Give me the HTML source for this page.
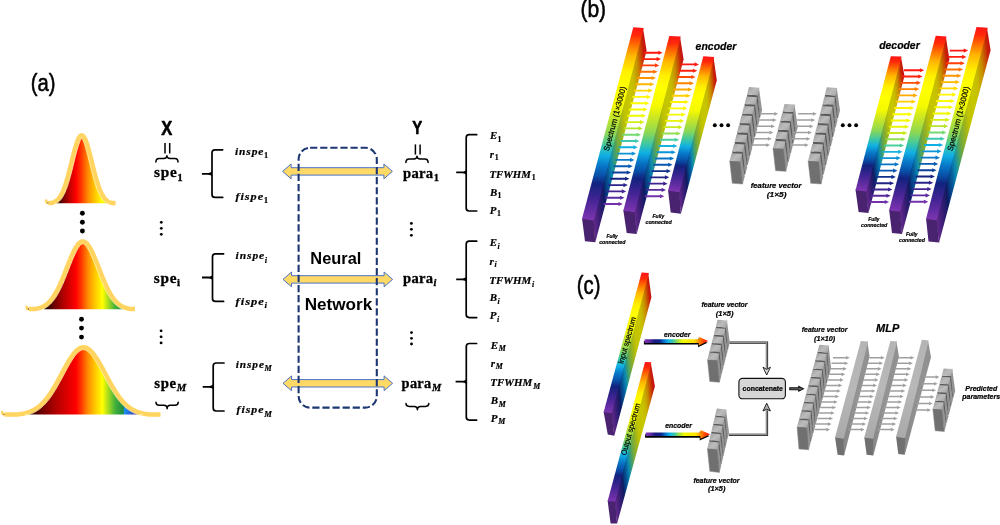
<!DOCTYPE html>
<html lang="en"><head><meta charset="utf-8"><title>Figure</title>
<style>html,body{margin:0;padding:0;background:#fff;}body{width:1000px;height:525px;overflow:hidden;}svg text{white-space:pre;fill:#000;}
.s,.sb,.si,.sbi{font-family:"Liberation Sans",sans-serif;}
.r,.rb,.ri,.rbi{font-family:"Liberation Serif",serif;}
.sb,.sbi,.rb,.rbi{font-weight:bold;}
.si,.sbi,.ri,.rbi{font-style:italic;}</style></head>
<body>
<svg width="1000" height="525" viewBox="0 0 1000 525" style="display:block">
<defs><linearGradient id="sp1" gradientUnits="userSpaceOnUse" x1="57.5" y1="0" x2="142" y2="0"><stop offset="0.0000" stop-color="#1c0000"/><stop offset="0.0657" stop-color="#700000"/><stop offset="0.1314" stop-color="#b40000"/><stop offset="0.2189" stop-color="#ff0000"/><stop offset="0.2899" stop-color="#ff4000"/><stop offset="0.3609" stop-color="#ff8c00"/><stop offset="0.4556" stop-color="#ffd000"/><stop offset="0.5325" stop-color="#ffff00"/><stop offset="0.6036" stop-color="#a4da20"/><stop offset="0.6805" stop-color="#44b23c"/><stop offset="0.7787" stop-color="#1e8c40"/><stop offset="0.7905" stop-color="#2092ea"/><stop offset="0.8343" stop-color="#2074e2"/><stop offset="0.9172" stop-color="#4030b4"/><stop offset="1.0000" stop-color="#5a20a0"/></linearGradient>
<linearGradient id="sp2" gradientUnits="userSpaceOnUse" x1="45.5" y1="0" x2="142" y2="0"><stop offset="0.0000" stop-color="#1c0000"/><stop offset="0.0948" stop-color="#700000"/><stop offset="0.1896" stop-color="#b40000"/><stop offset="0.3161" stop-color="#ff0000"/><stop offset="0.3782" stop-color="#ff4000"/><stop offset="0.4404" stop-color="#ff8c00"/><stop offset="0.5233" stop-color="#ffd000"/><stop offset="0.5907" stop-color="#ffff00"/><stop offset="0.6528" stop-color="#a4da20"/><stop offset="0.7202" stop-color="#44b23c"/><stop offset="0.8062" stop-color="#1e8c40"/><stop offset="0.8166" stop-color="#2092ea"/><stop offset="0.8549" stop-color="#2074e2"/><stop offset="0.9275" stop-color="#4030b4"/><stop offset="1.0000" stop-color="#5a20a0"/></linearGradient>
<linearGradient id="sp3" gradientUnits="userSpaceOnUse" x1="27.5" y1="0" x2="142" y2="0"><stop offset="0.0000" stop-color="#1c0000"/><stop offset="0.1271" stop-color="#700000"/><stop offset="0.2541" stop-color="#b40000"/><stop offset="0.4236" stop-color="#ff0000"/><stop offset="0.4760" stop-color="#ff4000"/><stop offset="0.5284" stop-color="#ff8c00"/><stop offset="0.5983" stop-color="#ffd000"/><stop offset="0.6550" stop-color="#ffff00"/><stop offset="0.7074" stop-color="#a4da20"/><stop offset="0.7642" stop-color="#44b23c"/><stop offset="0.8367" stop-color="#1e8c40"/><stop offset="0.8454" stop-color="#2092ea"/><stop offset="0.8777" stop-color="#2074e2"/><stop offset="0.9389" stop-color="#4030b4"/><stop offset="1.0000" stop-color="#5a20a0"/></linearGradient>
<linearGradient id="g4" gradientUnits="userSpaceOnUse" x1="633.30" y1="27.30" x2="620.24" y2="221.27"><stop offset="0.000" stop-color="#ff1414"/><stop offset="0.040" stop-color="#ff2a0a"/><stop offset="0.090" stop-color="#ff7000"/><stop offset="0.147" stop-color="#ffb800"/><stop offset="0.227" stop-color="#fff000"/><stop offset="0.300" stop-color="#ffff00"/><stop offset="0.400" stop-color="#f6fa00"/><stop offset="0.458" stop-color="#d0e820"/><stop offset="0.552" stop-color="#8cd854"/><stop offset="0.615" stop-color="#40c8a0"/><stop offset="0.667" stop-color="#10b0e4"/><stop offset="0.720" stop-color="#0878c8"/><stop offset="0.772" stop-color="#0850a8"/><stop offset="0.815" stop-color="#12227e"/><stop offset="0.900" stop-color="#442494"/><stop offset="1.000" stop-color="#7c34b0"/></linearGradient>
<linearGradient id="g5" gradientUnits="userSpaceOnUse" x1="643.70" y1="28.00" x2="574.99" y2="34.93"><stop offset="0.000" stop-color="#c71010"/><stop offset="0.040" stop-color="#c72108"/><stop offset="0.090" stop-color="#c75700"/><stop offset="0.147" stop-color="#c79000"/><stop offset="0.227" stop-color="#c7bb00"/><stop offset="0.300" stop-color="#c7c700"/><stop offset="0.400" stop-color="#c0c300"/><stop offset="0.458" stop-color="#a2b519"/><stop offset="0.552" stop-color="#6da842"/><stop offset="0.615" stop-color="#329c7d"/><stop offset="0.667" stop-color="#0c89b2"/><stop offset="0.720" stop-color="#065e9c"/><stop offset="0.772" stop-color="#063e83"/><stop offset="0.815" stop-color="#0e1b62"/><stop offset="0.900" stop-color="#351c73"/><stop offset="1.000" stop-color="#612989"/></linearGradient>
<linearGradient id="g6" gradientUnits="userSpaceOnUse" x1="669.30" y1="35.90" x2="661.56" y2="212.38"><stop offset="0.000" stop-color="#ff1414"/><stop offset="0.040" stop-color="#ff2a0a"/><stop offset="0.090" stop-color="#ff7000"/><stop offset="0.147" stop-color="#ffb800"/><stop offset="0.227" stop-color="#fff000"/><stop offset="0.300" stop-color="#ffff00"/><stop offset="0.400" stop-color="#f6fa00"/><stop offset="0.458" stop-color="#d0e820"/><stop offset="0.552" stop-color="#8cd854"/><stop offset="0.615" stop-color="#40c8a0"/><stop offset="0.667" stop-color="#10b0e4"/><stop offset="0.720" stop-color="#0878c8"/><stop offset="0.772" stop-color="#0850a8"/><stop offset="0.815" stop-color="#12227e"/><stop offset="0.900" stop-color="#442494"/><stop offset="1.000" stop-color="#7c34b0"/></linearGradient>
<linearGradient id="g7" gradientUnits="userSpaceOnUse" x1="680.70" y1="36.40" x2="616.34" y2="43.41"><stop offset="0.000" stop-color="#c71010"/><stop offset="0.040" stop-color="#c72108"/><stop offset="0.090" stop-color="#c75700"/><stop offset="0.147" stop-color="#c79000"/><stop offset="0.227" stop-color="#c7bb00"/><stop offset="0.300" stop-color="#c7c700"/><stop offset="0.400" stop-color="#c0c300"/><stop offset="0.458" stop-color="#a2b519"/><stop offset="0.552" stop-color="#6da842"/><stop offset="0.615" stop-color="#329c7d"/><stop offset="0.667" stop-color="#0c89b2"/><stop offset="0.720" stop-color="#065e9c"/><stop offset="0.772" stop-color="#063e83"/><stop offset="0.815" stop-color="#0e1b62"/><stop offset="0.900" stop-color="#351c73"/><stop offset="1.000" stop-color="#612989"/></linearGradient>
<linearGradient id="g8" gradientUnits="userSpaceOnUse" x1="703.30" y1="56.20" x2="694.55" y2="192.41"><stop offset="0.000" stop-color="#ff1414"/><stop offset="0.040" stop-color="#ff2a0a"/><stop offset="0.090" stop-color="#ff7000"/><stop offset="0.147" stop-color="#ffb800"/><stop offset="0.227" stop-color="#fff000"/><stop offset="0.300" stop-color="#ffff00"/><stop offset="0.400" stop-color="#f6fa00"/><stop offset="0.458" stop-color="#d0e820"/><stop offset="0.552" stop-color="#8cd854"/><stop offset="0.615" stop-color="#40c8a0"/><stop offset="0.667" stop-color="#10b0e4"/><stop offset="0.720" stop-color="#0878c8"/><stop offset="0.772" stop-color="#0850a8"/><stop offset="0.815" stop-color="#12227e"/><stop offset="0.900" stop-color="#442494"/><stop offset="1.000" stop-color="#7c34b0"/></linearGradient>
<linearGradient id="g9" gradientUnits="userSpaceOnUse" x1="714.20" y1="56.90" x2="667.10" y2="61.30"><stop offset="0.000" stop-color="#c71010"/><stop offset="0.040" stop-color="#c72108"/><stop offset="0.090" stop-color="#c75700"/><stop offset="0.147" stop-color="#c79000"/><stop offset="0.227" stop-color="#c7bb00"/><stop offset="0.300" stop-color="#c7c700"/><stop offset="0.400" stop-color="#c0c300"/><stop offset="0.458" stop-color="#a2b519"/><stop offset="0.552" stop-color="#6da842"/><stop offset="0.615" stop-color="#329c7d"/><stop offset="0.667" stop-color="#0c89b2"/><stop offset="0.720" stop-color="#065e9c"/><stop offset="0.772" stop-color="#063e83"/><stop offset="0.815" stop-color="#0e1b62"/><stop offset="0.900" stop-color="#351c73"/><stop offset="1.000" stop-color="#612989"/></linearGradient>
<linearGradient id="g10" gradientUnits="userSpaceOnUse" x1="890.80" y1="56.20" x2="885.80" y2="191.32"><stop offset="0.000" stop-color="#ff1414"/><stop offset="0.040" stop-color="#ff2a0a"/><stop offset="0.090" stop-color="#ff7000"/><stop offset="0.147" stop-color="#ffb800"/><stop offset="0.227" stop-color="#fff000"/><stop offset="0.300" stop-color="#ffff00"/><stop offset="0.400" stop-color="#f6fa00"/><stop offset="0.458" stop-color="#d0e820"/><stop offset="0.552" stop-color="#8cd854"/><stop offset="0.615" stop-color="#40c8a0"/><stop offset="0.667" stop-color="#10b0e4"/><stop offset="0.720" stop-color="#0878c8"/><stop offset="0.772" stop-color="#0850a8"/><stop offset="0.815" stop-color="#12227e"/><stop offset="0.900" stop-color="#442494"/><stop offset="1.000" stop-color="#7c34b0"/></linearGradient>
<linearGradient id="g11" gradientUnits="userSpaceOnUse" x1="901.60" y1="56.60" x2="850.29" y2="63.00"><stop offset="0.000" stop-color="#c71010"/><stop offset="0.040" stop-color="#c72108"/><stop offset="0.090" stop-color="#c75700"/><stop offset="0.147" stop-color="#c79000"/><stop offset="0.227" stop-color="#c7bb00"/><stop offset="0.300" stop-color="#c7c700"/><stop offset="0.400" stop-color="#c0c300"/><stop offset="0.458" stop-color="#a2b519"/><stop offset="0.552" stop-color="#6da842"/><stop offset="0.615" stop-color="#329c7d"/><stop offset="0.667" stop-color="#0c89b2"/><stop offset="0.720" stop-color="#065e9c"/><stop offset="0.772" stop-color="#063e83"/><stop offset="0.815" stop-color="#0e1b62"/><stop offset="0.900" stop-color="#351c73"/><stop offset="1.000" stop-color="#612989"/></linearGradient>
<linearGradient id="g12" gradientUnits="userSpaceOnUse" x1="935.70" y1="35.70" x2="922.58" y2="212.78"><stop offset="0.000" stop-color="#ff1414"/><stop offset="0.040" stop-color="#ff2a0a"/><stop offset="0.090" stop-color="#ff7000"/><stop offset="0.147" stop-color="#ffb800"/><stop offset="0.227" stop-color="#fff000"/><stop offset="0.300" stop-color="#ffff00"/><stop offset="0.400" stop-color="#f6fa00"/><stop offset="0.458" stop-color="#d0e820"/><stop offset="0.552" stop-color="#8cd854"/><stop offset="0.615" stop-color="#40c8a0"/><stop offset="0.667" stop-color="#10b0e4"/><stop offset="0.720" stop-color="#0878c8"/><stop offset="0.772" stop-color="#0850a8"/><stop offset="0.815" stop-color="#12227e"/><stop offset="0.900" stop-color="#442494"/><stop offset="1.000" stop-color="#7c34b0"/></linearGradient>
<linearGradient id="g13" gradientUnits="userSpaceOnUse" x1="946.50" y1="36.50" x2="881.69" y2="43.56"><stop offset="0.000" stop-color="#c71010"/><stop offset="0.040" stop-color="#c72108"/><stop offset="0.090" stop-color="#c75700"/><stop offset="0.147" stop-color="#c79000"/><stop offset="0.227" stop-color="#c7bb00"/><stop offset="0.300" stop-color="#c7c700"/><stop offset="0.400" stop-color="#c0c300"/><stop offset="0.458" stop-color="#a2b519"/><stop offset="0.552" stop-color="#6da842"/><stop offset="0.615" stop-color="#329c7d"/><stop offset="0.667" stop-color="#0c89b2"/><stop offset="0.720" stop-color="#065e9c"/><stop offset="0.772" stop-color="#063e83"/><stop offset="0.815" stop-color="#0e1b62"/><stop offset="0.900" stop-color="#351c73"/><stop offset="1.000" stop-color="#612989"/></linearGradient>
<linearGradient id="g14" gradientUnits="userSpaceOnUse" x1="976.50" y1="27.10" x2="966.11" y2="221.05"><stop offset="0.000" stop-color="#ff1414"/><stop offset="0.040" stop-color="#ff2a0a"/><stop offset="0.090" stop-color="#ff7000"/><stop offset="0.147" stop-color="#ffb800"/><stop offset="0.227" stop-color="#fff000"/><stop offset="0.300" stop-color="#ffff00"/><stop offset="0.400" stop-color="#f6fa00"/><stop offset="0.458" stop-color="#d0e820"/><stop offset="0.552" stop-color="#8cd854"/><stop offset="0.615" stop-color="#40c8a0"/><stop offset="0.667" stop-color="#10b0e4"/><stop offset="0.720" stop-color="#0878c8"/><stop offset="0.772" stop-color="#0850a8"/><stop offset="0.815" stop-color="#12227e"/><stop offset="0.900" stop-color="#442494"/><stop offset="1.000" stop-color="#7c34b0"/></linearGradient>
<linearGradient id="g15" gradientUnits="userSpaceOnUse" x1="987.70" y1="27.70" x2="914.51" y2="36.50"><stop offset="0.000" stop-color="#c71010"/><stop offset="0.040" stop-color="#c72108"/><stop offset="0.090" stop-color="#c75700"/><stop offset="0.147" stop-color="#c79000"/><stop offset="0.227" stop-color="#c7bb00"/><stop offset="0.300" stop-color="#c7c700"/><stop offset="0.400" stop-color="#c0c300"/><stop offset="0.458" stop-color="#a2b519"/><stop offset="0.552" stop-color="#6da842"/><stop offset="0.615" stop-color="#329c7d"/><stop offset="0.667" stop-color="#0c89b2"/><stop offset="0.720" stop-color="#065e9c"/><stop offset="0.772" stop-color="#063e83"/><stop offset="0.815" stop-color="#0e1b62"/><stop offset="0.900" stop-color="#351c73"/><stop offset="1.000" stop-color="#612989"/></linearGradient>
<linearGradient id="g16" gradientUnits="userSpaceOnUse" x1="749.00" y1="87.00" x2="757.52" y2="95.26"><stop offset="0" stop-color="#a2a2a2"/><stop offset="0.5" stop-color="#bcbcbc"/><stop offset="1" stop-color="#a8a8a8"/></linearGradient>
<linearGradient id="g17" gradientUnits="userSpaceOnUse" x1="746.52" y1="96.45" x2="755.04" y2="104.71"><stop offset="0" stop-color="#a2a2a2"/><stop offset="0.5" stop-color="#bcbcbc"/><stop offset="1" stop-color="#a8a8a8"/></linearGradient>
<linearGradient id="g18" gradientUnits="userSpaceOnUse" x1="744.04" y1="105.90" x2="752.56" y2="114.16"><stop offset="0" stop-color="#a2a2a2"/><stop offset="0.5" stop-color="#bcbcbc"/><stop offset="1" stop-color="#a8a8a8"/></linearGradient>
<linearGradient id="g19" gradientUnits="userSpaceOnUse" x1="741.56" y1="115.35" x2="750.08" y2="123.61"><stop offset="0" stop-color="#a2a2a2"/><stop offset="0.5" stop-color="#bcbcbc"/><stop offset="1" stop-color="#a8a8a8"/></linearGradient>
<linearGradient id="g20" gradientUnits="userSpaceOnUse" x1="739.08" y1="124.80" x2="747.60" y2="133.06"><stop offset="0" stop-color="#a2a2a2"/><stop offset="0.5" stop-color="#bcbcbc"/><stop offset="1" stop-color="#a8a8a8"/></linearGradient>
<linearGradient id="g21" gradientUnits="userSpaceOnUse" x1="736.60" y1="134.25" x2="745.12" y2="142.51"><stop offset="0" stop-color="#a2a2a2"/><stop offset="0.5" stop-color="#bcbcbc"/><stop offset="1" stop-color="#a8a8a8"/></linearGradient>
<linearGradient id="g22" gradientUnits="userSpaceOnUse" x1="734.12" y1="143.70" x2="742.64" y2="151.96"><stop offset="0" stop-color="#a2a2a2"/><stop offset="0.5" stop-color="#bcbcbc"/><stop offset="1" stop-color="#a8a8a8"/></linearGradient>
<linearGradient id="g23" gradientUnits="userSpaceOnUse" x1="731.64" y1="153.15" x2="740.16" y2="161.41"><stop offset="0" stop-color="#a2a2a2"/><stop offset="0.5" stop-color="#bcbcbc"/><stop offset="1" stop-color="#a8a8a8"/></linearGradient>
<linearGradient id="g24" gradientUnits="userSpaceOnUse" x1="784.60" y1="103.90" x2="793.16" y2="111.96"><stop offset="0" stop-color="#a2a2a2"/><stop offset="0.5" stop-color="#bcbcbc"/><stop offset="1" stop-color="#a8a8a8"/></linearGradient>
<linearGradient id="g25" gradientUnits="userSpaceOnUse" x1="782.18" y1="113.10" x2="790.74" y2="121.16"><stop offset="0" stop-color="#a2a2a2"/><stop offset="0.5" stop-color="#bcbcbc"/><stop offset="1" stop-color="#a8a8a8"/></linearGradient>
<linearGradient id="g26" gradientUnits="userSpaceOnUse" x1="779.76" y1="122.30" x2="788.32" y2="130.36"><stop offset="0" stop-color="#a2a2a2"/><stop offset="0.5" stop-color="#bcbcbc"/><stop offset="1" stop-color="#a8a8a8"/></linearGradient>
<linearGradient id="g27" gradientUnits="userSpaceOnUse" x1="777.34" y1="131.50" x2="785.90" y2="139.56"><stop offset="0" stop-color="#a2a2a2"/><stop offset="0.5" stop-color="#bcbcbc"/><stop offset="1" stop-color="#a8a8a8"/></linearGradient>
<linearGradient id="g28" gradientUnits="userSpaceOnUse" x1="774.92" y1="140.70" x2="783.48" y2="148.76"><stop offset="0" stop-color="#a2a2a2"/><stop offset="0.5" stop-color="#bcbcbc"/><stop offset="1" stop-color="#a8a8a8"/></linearGradient>
<linearGradient id="g29" gradientUnits="userSpaceOnUse" x1="826.80" y1="87.20" x2="835.48" y2="95.44"><stop offset="0" stop-color="#a2a2a2"/><stop offset="0.5" stop-color="#bcbcbc"/><stop offset="1" stop-color="#a8a8a8"/></linearGradient>
<linearGradient id="g30" gradientUnits="userSpaceOnUse" x1="824.40" y1="96.62" x2="833.08" y2="104.86"><stop offset="0" stop-color="#a2a2a2"/><stop offset="0.5" stop-color="#bcbcbc"/><stop offset="1" stop-color="#a8a8a8"/></linearGradient>
<linearGradient id="g31" gradientUnits="userSpaceOnUse" x1="822.00" y1="106.04" x2="830.68" y2="114.28"><stop offset="0" stop-color="#a2a2a2"/><stop offset="0.5" stop-color="#bcbcbc"/><stop offset="1" stop-color="#a8a8a8"/></linearGradient>
<linearGradient id="g32" gradientUnits="userSpaceOnUse" x1="819.60" y1="115.46" x2="828.28" y2="123.70"><stop offset="0" stop-color="#a2a2a2"/><stop offset="0.5" stop-color="#bcbcbc"/><stop offset="1" stop-color="#a8a8a8"/></linearGradient>
<linearGradient id="g33" gradientUnits="userSpaceOnUse" x1="817.20" y1="124.88" x2="825.88" y2="133.12"><stop offset="0" stop-color="#a2a2a2"/><stop offset="0.5" stop-color="#bcbcbc"/><stop offset="1" stop-color="#a8a8a8"/></linearGradient>
<linearGradient id="g34" gradientUnits="userSpaceOnUse" x1="814.80" y1="134.30" x2="823.48" y2="142.54"><stop offset="0" stop-color="#a2a2a2"/><stop offset="0.5" stop-color="#bcbcbc"/><stop offset="1" stop-color="#a8a8a8"/></linearGradient>
<linearGradient id="g35" gradientUnits="userSpaceOnUse" x1="812.40" y1="143.72" x2="821.08" y2="151.96"><stop offset="0" stop-color="#a2a2a2"/><stop offset="0.5" stop-color="#bcbcbc"/><stop offset="1" stop-color="#a8a8a8"/></linearGradient>
<linearGradient id="g36" gradientUnits="userSpaceOnUse" x1="810.00" y1="153.14" x2="818.68" y2="161.38"><stop offset="0" stop-color="#a2a2a2"/><stop offset="0.5" stop-color="#bcbcbc"/><stop offset="1" stop-color="#a8a8a8"/></linearGradient>
<linearGradient id="g37" gradientUnits="userSpaceOnUse" x1="645.00" y1="362.00" x2="640.62" y2="502.23"><stop offset="0.000" stop-color="#ff1414"/><stop offset="0.040" stop-color="#ff2a0a"/><stop offset="0.090" stop-color="#ff7000"/><stop offset="0.147" stop-color="#ffb800"/><stop offset="0.227" stop-color="#fff000"/><stop offset="0.300" stop-color="#ffff00"/><stop offset="0.400" stop-color="#f6fa00"/><stop offset="0.458" stop-color="#d0e820"/><stop offset="0.552" stop-color="#8cd854"/><stop offset="0.615" stop-color="#40c8a0"/><stop offset="0.667" stop-color="#10b0e4"/><stop offset="0.720" stop-color="#0878c8"/><stop offset="0.772" stop-color="#0850a8"/><stop offset="0.815" stop-color="#12227e"/><stop offset="0.900" stop-color="#442494"/><stop offset="1.000" stop-color="#7c34b0"/></linearGradient>
<linearGradient id="g38" gradientUnits="userSpaceOnUse" x1="651.40" y1="362.20" x2="599.55" y2="368.29"><stop offset="0.000" stop-color="#c71010"/><stop offset="0.040" stop-color="#c72108"/><stop offset="0.090" stop-color="#c75700"/><stop offset="0.147" stop-color="#c79000"/><stop offset="0.227" stop-color="#c7bb00"/><stop offset="0.300" stop-color="#c7c700"/><stop offset="0.400" stop-color="#c0c300"/><stop offset="0.458" stop-color="#a2b519"/><stop offset="0.552" stop-color="#6da842"/><stop offset="0.615" stop-color="#329c7d"/><stop offset="0.667" stop-color="#0c89b2"/><stop offset="0.720" stop-color="#065e9c"/><stop offset="0.772" stop-color="#063e83"/><stop offset="0.815" stop-color="#0e1b62"/><stop offset="0.900" stop-color="#351c73"/><stop offset="1.000" stop-color="#612989"/></linearGradient>
<linearGradient id="g39" gradientUnits="userSpaceOnUse" x1="641.60" y1="272.60" x2="635.80" y2="413.62"><stop offset="0.000" stop-color="#ff1414"/><stop offset="0.040" stop-color="#ff2a0a"/><stop offset="0.090" stop-color="#ff7000"/><stop offset="0.147" stop-color="#ffb800"/><stop offset="0.227" stop-color="#fff000"/><stop offset="0.300" stop-color="#ffff00"/><stop offset="0.400" stop-color="#f6fa00"/><stop offset="0.458" stop-color="#d0e820"/><stop offset="0.552" stop-color="#8cd854"/><stop offset="0.615" stop-color="#40c8a0"/><stop offset="0.667" stop-color="#10b0e4"/><stop offset="0.720" stop-color="#0878c8"/><stop offset="0.772" stop-color="#0850a8"/><stop offset="0.815" stop-color="#12227e"/><stop offset="0.900" stop-color="#442494"/><stop offset="1.000" stop-color="#7c34b0"/></linearGradient>
<linearGradient id="g40" gradientUnits="userSpaceOnUse" x1="648.90" y1="272.90" x2="597.58" y2="278.32"><stop offset="0.000" stop-color="#c71010"/><stop offset="0.040" stop-color="#c72108"/><stop offset="0.090" stop-color="#c75700"/><stop offset="0.147" stop-color="#c79000"/><stop offset="0.227" stop-color="#c7bb00"/><stop offset="0.300" stop-color="#c7c700"/><stop offset="0.400" stop-color="#c0c300"/><stop offset="0.458" stop-color="#a2b519"/><stop offset="0.552" stop-color="#6da842"/><stop offset="0.615" stop-color="#329c7d"/><stop offset="0.667" stop-color="#0c89b2"/><stop offset="0.720" stop-color="#065e9c"/><stop offset="0.772" stop-color="#063e83"/><stop offset="0.815" stop-color="#0e1b62"/><stop offset="0.900" stop-color="#351c73"/><stop offset="1.000" stop-color="#612989"/></linearGradient>
<linearGradient id="ra1" gradientUnits="userSpaceOnUse" x1="644.6" y1="0" x2="708.2" y2="0"><stop offset="0.000" stop-color="#7c34b0"/><stop offset="0.080" stop-color="#5a2aa0"/><stop offset="0.150" stop-color="#1a1a80"/><stop offset="0.240" stop-color="#0a2890"/><stop offset="0.310" stop-color="#0878d0"/><stop offset="0.380" stop-color="#10b8e8"/><stop offset="0.450" stop-color="#40c8a0"/><stop offset="0.520" stop-color="#a0e040"/><stop offset="0.600" stop-color="#f0f800"/><stop offset="0.780" stop-color="#ffe000"/><stop offset="0.850" stop-color="#ff9000"/><stop offset="0.930" stop-color="#ff4000"/><stop offset="1.000" stop-color="#ff1010"/></linearGradient>
<linearGradient id="ra2" gradientUnits="userSpaceOnUse" x1="645.8" y1="0" x2="710.2" y2="0"><stop offset="0.000" stop-color="#7c34b0"/><stop offset="0.080" stop-color="#5a2aa0"/><stop offset="0.150" stop-color="#1a1a80"/><stop offset="0.240" stop-color="#0a2890"/><stop offset="0.310" stop-color="#0878d0"/><stop offset="0.380" stop-color="#10b8e8"/><stop offset="0.450" stop-color="#40c8a0"/><stop offset="0.520" stop-color="#a0e040"/><stop offset="0.600" stop-color="#f0f800"/><stop offset="0.780" stop-color="#ffe000"/><stop offset="0.850" stop-color="#ff9000"/><stop offset="0.930" stop-color="#ff4000"/><stop offset="1.000" stop-color="#ff1010"/></linearGradient>
<linearGradient id="g41" gradientUnits="userSpaceOnUse" x1="717.60" y1="319.70" x2="725.74" y2="327.40"><stop offset="0" stop-color="#a2a2a2"/><stop offset="0.5" stop-color="#bcbcbc"/><stop offset="1" stop-color="#a8a8a8"/></linearGradient>
<linearGradient id="g42" gradientUnits="userSpaceOnUse" x1="715.50" y1="327.92" x2="723.64" y2="335.62"><stop offset="0" stop-color="#a2a2a2"/><stop offset="0.5" stop-color="#bcbcbc"/><stop offset="1" stop-color="#a8a8a8"/></linearGradient>
<linearGradient id="g43" gradientUnits="userSpaceOnUse" x1="713.40" y1="336.14" x2="721.54" y2="343.84"><stop offset="0" stop-color="#a2a2a2"/><stop offset="0.5" stop-color="#bcbcbc"/><stop offset="1" stop-color="#a8a8a8"/></linearGradient>
<linearGradient id="g44" gradientUnits="userSpaceOnUse" x1="711.30" y1="344.36" x2="719.44" y2="352.06"><stop offset="0" stop-color="#a2a2a2"/><stop offset="0.5" stop-color="#bcbcbc"/><stop offset="1" stop-color="#a8a8a8"/></linearGradient>
<linearGradient id="g45" gradientUnits="userSpaceOnUse" x1="709.20" y1="352.58" x2="717.34" y2="360.28"><stop offset="0" stop-color="#a2a2a2"/><stop offset="0.5" stop-color="#bcbcbc"/><stop offset="1" stop-color="#a8a8a8"/></linearGradient>
<linearGradient id="g46" gradientUnits="userSpaceOnUse" x1="716.80" y1="408.40" x2="724.96" y2="416.43"><stop offset="0" stop-color="#a2a2a2"/><stop offset="0.5" stop-color="#bcbcbc"/><stop offset="1" stop-color="#a8a8a8"/></linearGradient>
<linearGradient id="g47" gradientUnits="userSpaceOnUse" x1="714.85" y1="416.65" x2="723.01" y2="424.68"><stop offset="0" stop-color="#a2a2a2"/><stop offset="0.5" stop-color="#bcbcbc"/><stop offset="1" stop-color="#a8a8a8"/></linearGradient>
<linearGradient id="g48" gradientUnits="userSpaceOnUse" x1="712.90" y1="424.90" x2="721.06" y2="432.93"><stop offset="0" stop-color="#a2a2a2"/><stop offset="0.5" stop-color="#bcbcbc"/><stop offset="1" stop-color="#a8a8a8"/></linearGradient>
<linearGradient id="g49" gradientUnits="userSpaceOnUse" x1="710.95" y1="433.15" x2="719.11" y2="441.18"><stop offset="0" stop-color="#a2a2a2"/><stop offset="0.5" stop-color="#bcbcbc"/><stop offset="1" stop-color="#a8a8a8"/></linearGradient>
<linearGradient id="g50" gradientUnits="userSpaceOnUse" x1="709.00" y1="441.40" x2="717.16" y2="449.43"><stop offset="0" stop-color="#a2a2a2"/><stop offset="0.5" stop-color="#bcbcbc"/><stop offset="1" stop-color="#a8a8a8"/></linearGradient>
<linearGradient id="g51" gradientUnits="userSpaceOnUse" x1="819.40" y1="344.80" x2="827.29" y2="352.59"><stop offset="0" stop-color="#a2a2a2"/><stop offset="0.5" stop-color="#bcbcbc"/><stop offset="1" stop-color="#a8a8a8"/></linearGradient>
<linearGradient id="g52" gradientUnits="userSpaceOnUse" x1="817.13" y1="353.12" x2="825.02" y2="360.91"><stop offset="0" stop-color="#a2a2a2"/><stop offset="0.5" stop-color="#bcbcbc"/><stop offset="1" stop-color="#a8a8a8"/></linearGradient>
<linearGradient id="g53" gradientUnits="userSpaceOnUse" x1="814.86" y1="361.44" x2="822.75" y2="369.23"><stop offset="0" stop-color="#a2a2a2"/><stop offset="0.5" stop-color="#bcbcbc"/><stop offset="1" stop-color="#a8a8a8"/></linearGradient>
<linearGradient id="g54" gradientUnits="userSpaceOnUse" x1="812.59" y1="369.76" x2="820.48" y2="377.55"><stop offset="0" stop-color="#a2a2a2"/><stop offset="0.5" stop-color="#bcbcbc"/><stop offset="1" stop-color="#a8a8a8"/></linearGradient>
<linearGradient id="g55" gradientUnits="userSpaceOnUse" x1="810.32" y1="378.08" x2="818.21" y2="385.87"><stop offset="0" stop-color="#a2a2a2"/><stop offset="0.5" stop-color="#bcbcbc"/><stop offset="1" stop-color="#a8a8a8"/></linearGradient>
<linearGradient id="g56" gradientUnits="userSpaceOnUse" x1="808.05" y1="386.40" x2="815.94" y2="394.19"><stop offset="0" stop-color="#a2a2a2"/><stop offset="0.5" stop-color="#bcbcbc"/><stop offset="1" stop-color="#a8a8a8"/></linearGradient>
<linearGradient id="g57" gradientUnits="userSpaceOnUse" x1="805.78" y1="394.72" x2="813.67" y2="402.51"><stop offset="0" stop-color="#a2a2a2"/><stop offset="0.5" stop-color="#bcbcbc"/><stop offset="1" stop-color="#a8a8a8"/></linearGradient>
<linearGradient id="g58" gradientUnits="userSpaceOnUse" x1="803.51" y1="403.04" x2="811.40" y2="410.83"><stop offset="0" stop-color="#a2a2a2"/><stop offset="0.5" stop-color="#bcbcbc"/><stop offset="1" stop-color="#a8a8a8"/></linearGradient>
<linearGradient id="g59" gradientUnits="userSpaceOnUse" x1="801.24" y1="411.36" x2="809.13" y2="419.15"><stop offset="0" stop-color="#a2a2a2"/><stop offset="0.5" stop-color="#bcbcbc"/><stop offset="1" stop-color="#a8a8a8"/></linearGradient>
<linearGradient id="g60" gradientUnits="userSpaceOnUse" x1="798.97" y1="419.68" x2="806.86" y2="427.47"><stop offset="0" stop-color="#a2a2a2"/><stop offset="0.5" stop-color="#bcbcbc"/><stop offset="1" stop-color="#a8a8a8"/></linearGradient>
<linearGradient id="g61" gradientUnits="userSpaceOnUse" x1="860.80" y1="341.00" x2="852.74" y2="439.06"><stop offset="0.000" stop-color="#b4b4b4"/><stop offset="0.500" stop-color="#b8b8b8"/><stop offset="1.000" stop-color="#aaaaaa"/></linearGradient>
<linearGradient id="g62" gradientUnits="userSpaceOnUse" x1="868.10" y1="341.60" x2="838.02" y2="343.39"><stop offset="0.000" stop-color="#909090"/><stop offset="0.500" stop-color="#939393"/><stop offset="1.000" stop-color="#888888"/></linearGradient>
<linearGradient id="g63" gradientUnits="userSpaceOnUse" x1="890.40" y1="341.00" x2="881.61" y2="439.15"><stop offset="0.000" stop-color="#b4b4b4"/><stop offset="0.500" stop-color="#b8b8b8"/><stop offset="1.000" stop-color="#aaaaaa"/></linearGradient>
<linearGradient id="g64" gradientUnits="userSpaceOnUse" x1="897.10" y1="341.60" x2="866.54" y2="343.71"><stop offset="0.000" stop-color="#909090"/><stop offset="0.500" stop-color="#939393"/><stop offset="1.000" stop-color="#888888"/></linearGradient>
<linearGradient id="g65" gradientUnits="userSpaceOnUse" x1="921.90" y1="339.80" x2="910.28" y2="438.58"><stop offset="0.000" stop-color="#b4b4b4"/><stop offset="0.500" stop-color="#b8b8b8"/><stop offset="1.000" stop-color="#aaaaaa"/></linearGradient>
<linearGradient id="g66" gradientUnits="userSpaceOnUse" x1="928.70" y1="340.60" x2="899.37" y2="342.36"><stop offset="0.000" stop-color="#909090"/><stop offset="0.500" stop-color="#939393"/><stop offset="1.000" stop-color="#888888"/></linearGradient>
<linearGradient id="g67" gradientUnits="userSpaceOnUse" x1="943.70" y1="368.40" x2="950.91" y2="376.11"><stop offset="0" stop-color="#a2a2a2"/><stop offset="0.5" stop-color="#bcbcbc"/><stop offset="1" stop-color="#a8a8a8"/></linearGradient>
<linearGradient id="g68" gradientUnits="userSpaceOnUse" x1="941.45" y1="376.75" x2="948.66" y2="384.46"><stop offset="0" stop-color="#a2a2a2"/><stop offset="0.5" stop-color="#bcbcbc"/><stop offset="1" stop-color="#a8a8a8"/></linearGradient>
<linearGradient id="g69" gradientUnits="userSpaceOnUse" x1="939.20" y1="385.10" x2="946.41" y2="392.81"><stop offset="0" stop-color="#a2a2a2"/><stop offset="0.5" stop-color="#bcbcbc"/><stop offset="1" stop-color="#a8a8a8"/></linearGradient>
<linearGradient id="g70" gradientUnits="userSpaceOnUse" x1="936.95" y1="393.45" x2="944.16" y2="401.16"><stop offset="0" stop-color="#a2a2a2"/><stop offset="0.5" stop-color="#bcbcbc"/><stop offset="1" stop-color="#a8a8a8"/></linearGradient>
<linearGradient id="g71" gradientUnits="userSpaceOnUse" x1="934.70" y1="401.80" x2="941.91" y2="409.51"><stop offset="0" stop-color="#a2a2a2"/><stop offset="0.5" stop-color="#bcbcbc"/><stop offset="1" stop-color="#a8a8a8"/></linearGradient></defs>
<text class="s" font-size="23.8" transform="translate(30.80 90.50) scale(0.8507 1)" stroke="#000" stroke-width="0.55" stroke-linejoin="round">(a)</text>
<path d="M56.0,200.96 L56.5,200.58 L57.0,200.17 L57.5,199.72 L58.0,199.21 L58.5,198.66 L59.0,198.06 L59.5,197.41 L60.0,196.69 L60.5,195.92 L61.0,195.08 L61.5,194.18 L62.0,193.21 L62.5,192.17 L63.0,191.06 L63.5,189.88 L64.0,188.62 L64.5,187.29 L65.0,185.89 L65.5,184.41 L66.0,182.86 L66.5,181.25 L67.0,179.57 L67.5,177.82 L68.0,176.02 L68.5,174.16 L69.0,172.26 L69.5,170.31 L70.0,168.33 L70.5,166.32 L71.0,164.30 L71.5,162.26 L72.0,160.23 L72.5,158.20 L73.0,156.20 L73.5,154.22 L74.0,152.29 L74.5,150.41 L75.0,148.60 L75.5,146.86 L76.0,145.21 L76.5,143.65 L77.0,142.20 L77.5,140.87 L78.0,139.66 L78.5,138.59 L79.0,137.66 L79.5,136.88 L80.0,136.25 L80.5,135.77 L81.0,135.46 L81.5,135.31 L82.0,135.33 L82.5,135.51 L83.0,135.85 L83.5,136.36 L84.0,137.02 L84.5,137.83 L85.0,138.79 L85.5,139.89 L86.0,141.13 L86.5,142.48 L87.0,143.95 L87.5,145.53 L88.0,147.20 L88.5,148.95 L89.0,150.78 L89.5,152.67 L90.0,154.61 L90.5,156.59 L91.0,158.60 L91.5,160.63 L92.0,162.67 L92.5,164.70 L93.0,166.73 L93.5,168.73 L94.0,170.70 L94.5,172.64 L95.0,174.54 L95.5,176.38 L96.0,178.18 L96.5,179.91 L97.0,181.58 L97.5,183.18 L98.0,184.71 L98.5,186.17 L99.0,187.56 L99.5,188.88 L100.0,190.12 L100.5,191.29 L101.0,192.38 L101.5,193.41 L102.0,194.37 L102.5,195.25 L103.0,196.08 L103.5,196.84 L104.0,197.54 L104.5,198.19 L105.0,198.78 L105.5,199.32 L106.0,199.81 L106.5,200.26 L107.0,200.66 L107.5,201.03 L108.0,201.36 L108.5,201.65 L108.5,203.2 L56.0,203.2 Z" fill="url(#sp1)"/>
<path d="M48.5,203.00 L49.0,203.00 L49.5,203.00 L50.0,203.00 L50.5,203.00 L51.0,203.00 L51.5,202.97 L52.0,202.83 L52.5,202.68 L53.0,202.51 L53.5,202.32 L54.0,202.11 L54.5,201.86 L55.0,201.59 L55.5,201.29 L56.0,200.96 L56.5,200.58 L57.0,200.17 L57.5,199.72 L58.0,199.21 L58.5,198.66 L59.0,198.06 L59.5,197.41 L60.0,196.69 L60.5,195.92 L61.0,195.08 L61.5,194.18 L62.0,193.21 L62.5,192.17 L63.0,191.06 L63.5,189.88 L64.0,188.62 L64.5,187.29 L65.0,185.89 L65.5,184.41 L66.0,182.86 L66.5,181.25 L67.0,179.57 L67.5,177.82 L68.0,176.02 L68.5,174.16 L69.0,172.26 L69.5,170.31 L70.0,168.33 L70.5,166.32 L71.0,164.30 L71.5,162.26 L72.0,160.23 L72.5,158.20 L73.0,156.20 L73.5,154.22 L74.0,152.29 L74.5,150.41 L75.0,148.60 L75.5,146.86 L76.0,145.21 L76.5,143.65 L77.0,142.20 L77.5,140.87 L78.0,139.66 L78.5,138.59 L79.0,137.66 L79.5,136.88 L80.0,136.25 L80.5,135.77 L81.0,135.46 L81.5,135.31 L82.0,135.33 L82.5,135.51 L83.0,135.85 L83.5,136.36 L84.0,137.02 L84.5,137.83 L85.0,138.79 L85.5,139.89 L86.0,141.13 L86.5,142.48 L87.0,143.95 L87.5,145.53 L88.0,147.20 L88.5,148.95 L89.0,150.78 L89.5,152.67 L90.0,154.61 L90.5,156.59 L91.0,158.60 L91.5,160.63 L92.0,162.67 L92.5,164.70 L93.0,166.73 L93.5,168.73 L94.0,170.70 L94.5,172.64 L95.0,174.54 L95.5,176.38 L96.0,178.18 L96.5,179.91 L97.0,181.58 L97.5,183.18 L98.0,184.71 L98.5,186.17 L99.0,187.56 L99.5,188.88 L100.0,190.12 L100.5,191.29 L101.0,192.38 L101.5,193.41 L102.0,194.37 L102.5,195.25 L103.0,196.08 L103.5,196.84 L104.0,197.54 L104.5,198.19 L105.0,198.78 L105.5,199.32 L106.0,199.81 L106.5,200.26 L107.0,200.66 L107.5,201.03 L108.0,201.36 L108.5,201.65 L109.0,201.92 L109.5,202.15 L110.0,202.36 L110.5,202.55 L111.0,202.72 L111.5,202.86 L112.0,202.99 L112.5,203.00 L113.0,203.00 L113.5,203.00 L114.0,203.00 L114.5,203.00 L115.0,203.00 L115.5,203.00" fill="none" stroke="#ffd460" stroke-width="4.5" stroke-linecap="butt" stroke-linejoin="round"/>
<path d="M55.0,203.20 L55.6,203.20 L56.2,203.20 L56.8,203.20 L57.4,202.91 L58.0,202.47 L58.6,201.98 L59.2,201.45 L59.7,200.87 L60.3,200.24 L60.9,199.56 L61.4,198.82 L62.0,198.03 L62.5,197.19 L63.1,196.28 L63.6,195.31 L64.1,194.28 L64.7,193.18 L65.2,192.02 L65.7,190.79 L66.2,189.48 L66.8,188.11 L67.3,186.67 L67.8,185.16 L68.3,183.59 L68.8,181.94 L69.3,180.24 L69.8,178.47 L70.3,176.65 L70.8,174.78 L71.3,172.86 L71.8,170.90 L72.3,168.91 L72.8,166.90 L73.3,164.87 L73.8,162.83 L74.3,160.80 L74.8,158.78 L75.3,156.78 L75.8,154.82 L76.3,152.90 L76.8,151.04 L77.3,149.25 L77.8,147.54 L78.3,145.92 L78.8,144.41 L79.3,143.01 L79.7,141.75 L80.2,140.63 L80.6,139.66 L81.1,138.87 L81.5,138.26 L81.8,137.86 L82.0,137.66 L82.0,137.64 L81.8,137.69 L81.5,137.68 L81.4,137.64 L81.4,137.68 L81.7,137.92 L82.0,138.37 L82.4,139.01 L82.8,139.84 L83.3,140.84 L83.8,141.99 L84.2,143.28 L84.7,144.70 L85.2,146.24 L85.7,147.87 L86.2,149.60 L86.7,151.41 L87.2,153.28 L87.7,155.21 L88.2,157.18 L88.7,159.18 L89.2,161.21 L89.7,163.24 L90.2,165.28 L90.7,167.31 L91.2,169.31 L91.7,171.30 L92.2,173.25 L92.7,175.16 L93.2,177.02 L93.7,178.83 L94.2,180.58 L94.7,182.28 L95.2,183.91 L95.7,185.47 L96.2,186.97 L96.7,188.39 L97.3,189.75 L97.8,191.04 L98.3,192.26 L98.8,193.41 L99.4,194.49 L99.9,195.51 L100.4,196.46 L101.0,197.36 L101.5,198.19 L102.1,198.97 L102.6,199.70 L103.2,200.37 L103.8,200.99 L104.4,201.56 L104.9,202.08 L105.5,202.56 L106.1,203.00 L106.7,203.20 L107.3,203.20 L107.9,203.20 L108.5,203.20 L109.1,203.20 L109.7,203.20" fill="none" stroke="#fff3a8" stroke-width="0.9" stroke-linejoin="round"/>
<path d="M49.0,203.0 q-3.2,0.4 -2.8,-2.4" fill="none" stroke="#ffd460" stroke-width="2.6" stroke-linecap="round"/>
<circle cx="47.9" cy="202.8" r="0.55" fill="#333"/>
<path d="M44.0,306.03 L44.5,305.73 L45.0,305.42 L45.5,305.08 L46.0,304.73 L46.5,304.36 L47.0,303.96 L47.5,303.54 L48.0,303.10 L48.5,302.64 L49.0,302.15 L49.5,301.64 L50.0,301.10 L50.5,300.53 L51.0,299.94 L51.5,299.32 L52.0,298.68 L52.5,298.00 L53.0,297.30 L53.5,296.57 L54.0,295.81 L54.5,295.02 L55.0,294.21 L55.5,293.36 L56.0,292.48 L56.5,291.58 L57.0,290.64 L57.5,289.68 L58.0,288.69 L58.5,287.68 L59.0,286.63 L59.5,285.56 L60.0,284.47 L60.5,283.35 L61.0,282.21 L61.5,281.05 L62.0,279.87 L62.5,278.67 L63.0,277.45 L63.5,276.22 L64.0,274.98 L64.5,273.72 L65.0,272.45 L65.5,271.18 L66.0,269.90 L66.5,268.62 L67.0,267.34 L67.5,266.05 L68.0,264.78 L68.5,263.51 L69.0,262.25 L69.5,261.00 L70.0,259.77 L70.5,258.56 L71.0,257.37 L71.5,256.20 L72.0,255.05 L72.5,253.94 L73.0,252.86 L73.5,251.81 L74.0,250.80 L74.5,249.83 L75.0,248.90 L75.5,248.02 L76.0,247.18 L76.5,246.39 L77.0,245.65 L77.5,244.97 L78.0,244.34 L78.5,243.77 L79.0,243.26 L79.5,242.81 L80.0,242.42 L80.5,242.09 L81.0,241.82 L81.5,241.62 L82.0,241.48 L82.5,241.41 L83.0,241.41 L83.5,241.46 L84.0,241.59 L84.5,241.78 L85.0,242.03 L85.5,242.35 L86.0,242.72 L86.5,243.16 L87.0,243.66 L87.5,244.22 L88.0,244.84 L88.5,245.51 L89.0,246.24 L89.5,247.02 L90.0,247.84 L90.5,248.72 L91.0,249.64 L91.5,250.60 L92.0,251.60 L92.5,252.65 L93.0,253.72 L93.5,254.83 L94.0,255.97 L94.5,257.13 L95.0,258.32 L95.5,259.53 L96.0,260.76 L96.5,262.00 L97.0,263.26 L97.5,264.52 L98.0,265.80 L98.5,267.08 L99.0,268.36 L99.5,269.64 L100.0,270.92 L100.5,272.20 L101.0,273.47 L101.5,274.73 L102.0,275.97 L102.5,277.21 L103.0,278.43 L103.5,279.63 L104.0,280.82 L104.5,281.98 L105.0,283.13 L105.5,284.25 L106.0,285.35 L106.5,286.42 L107.0,287.47 L107.5,288.49 L108.0,289.49 L108.5,290.45 L109.0,291.39 L109.5,292.30 L110.0,293.19 L110.5,294.04 L111.0,294.86 L111.5,295.66 L112.0,296.42 L112.5,297.16 L113.0,297.87 L113.5,298.55 L114.0,299.20 L114.5,299.82 L115.0,300.42 L115.5,300.99 L116.0,301.53 L116.5,302.05 L117.0,302.54 L117.5,303.01 L118.0,303.46 L118.5,303.88 L119.0,304.28 L119.5,304.66 L120.0,305.02 L120.5,305.35 L121.0,305.67 L121.5,305.97 L122.0,306.25 L122.5,306.52 L123.0,306.77 L123.0,309.3 L44.0,309.3 Z" fill="url(#sp2)"/>
<path d="M29.0,309.10 L29.5,309.10 L30.0,309.10 L30.5,309.10 L31.0,309.10 L31.5,309.10 L32.0,309.10 L32.5,309.10 L33.0,309.10 L33.5,309.10 L34.0,309.10 L34.5,309.10 L35.0,309.04 L35.5,308.96 L36.0,308.87 L36.5,308.77 L37.0,308.66 L37.5,308.55 L38.0,308.43 L38.5,308.29 L39.0,308.15 L39.5,308.00 L40.0,307.83 L40.5,307.66 L41.0,307.47 L41.5,307.26 L42.0,307.05 L42.5,306.82 L43.0,306.57 L43.5,306.31 L44.0,306.03 L44.5,305.73 L45.0,305.42 L45.5,305.08 L46.0,304.73 L46.5,304.36 L47.0,303.96 L47.5,303.54 L48.0,303.10 L48.5,302.64 L49.0,302.15 L49.5,301.64 L50.0,301.10 L50.5,300.53 L51.0,299.94 L51.5,299.32 L52.0,298.68 L52.5,298.00 L53.0,297.30 L53.5,296.57 L54.0,295.81 L54.5,295.02 L55.0,294.21 L55.5,293.36 L56.0,292.48 L56.5,291.58 L57.0,290.64 L57.5,289.68 L58.0,288.69 L58.5,287.68 L59.0,286.63 L59.5,285.56 L60.0,284.47 L60.5,283.35 L61.0,282.21 L61.5,281.05 L62.0,279.87 L62.5,278.67 L63.0,277.45 L63.5,276.22 L64.0,274.98 L64.5,273.72 L65.0,272.45 L65.5,271.18 L66.0,269.90 L66.5,268.62 L67.0,267.34 L67.5,266.05 L68.0,264.78 L68.5,263.51 L69.0,262.25 L69.5,261.00 L70.0,259.77 L70.5,258.56 L71.0,257.37 L71.5,256.20 L72.0,255.05 L72.5,253.94 L73.0,252.86 L73.5,251.81 L74.0,250.80 L74.5,249.83 L75.0,248.90 L75.5,248.02 L76.0,247.18 L76.5,246.39 L77.0,245.65 L77.5,244.97 L78.0,244.34 L78.5,243.77 L79.0,243.26 L79.5,242.81 L80.0,242.42 L80.5,242.09 L81.0,241.82 L81.5,241.62 L82.0,241.48 L82.5,241.41 L83.0,241.41 L83.5,241.46 L84.0,241.59 L84.5,241.78 L85.0,242.03 L85.5,242.35 L86.0,242.72 L86.5,243.16 L87.0,243.66 L87.5,244.22 L88.0,244.84 L88.5,245.51 L89.0,246.24 L89.5,247.02 L90.0,247.84 L90.5,248.72 L91.0,249.64 L91.5,250.60 L92.0,251.60 L92.5,252.65 L93.0,253.72 L93.5,254.83 L94.0,255.97 L94.5,257.13 L95.0,258.32 L95.5,259.53 L96.0,260.76 L96.5,262.00 L97.0,263.26 L97.5,264.52 L98.0,265.80 L98.5,267.08 L99.0,268.36 L99.5,269.64 L100.0,270.92 L100.5,272.20 L101.0,273.47 L101.5,274.73 L102.0,275.97 L102.5,277.21 L103.0,278.43 L103.5,279.63 L104.0,280.82 L104.5,281.98 L105.0,283.13 L105.5,284.25 L106.0,285.35 L106.5,286.42 L107.0,287.47 L107.5,288.49 L108.0,289.49 L108.5,290.45 L109.0,291.39 L109.5,292.30 L110.0,293.19 L110.5,294.04 L111.0,294.86 L111.5,295.66 L112.0,296.42 L112.5,297.16 L113.0,297.87 L113.5,298.55 L114.0,299.20 L114.5,299.82 L115.0,300.42 L115.5,300.99 L116.0,301.53 L116.5,302.05 L117.0,302.54 L117.5,303.01 L118.0,303.46 L118.5,303.88 L119.0,304.28 L119.5,304.66 L120.0,305.02 L120.5,305.35 L121.0,305.67 L121.5,305.97 L122.0,306.25 L122.5,306.52 L123.0,306.77 L123.5,307.00 L124.0,307.22 L124.5,307.43 L125.0,307.62 L125.5,307.80 L126.0,307.96 L126.5,308.12 L127.0,308.27 L127.5,308.40 L128.0,308.52 L128.5,308.64 L129.0,308.75 L129.5,308.85 L130.0,308.94 L130.5,309.02 L131.0,309.10 L131.5,309.10 L132.0,309.10 L132.5,309.10 L133.0,309.10 L133.5,309.10 L134.0,309.10 L134.5,309.10 L135.0,309.10" fill="none" stroke="#ffd460" stroke-width="4.5" stroke-linecap="butt" stroke-linejoin="round"/>
<path d="M43.0,309.24 L43.5,308.98 L44.1,308.71 L44.6,308.42 L45.2,308.11 L45.8,307.78 L46.3,307.43 L46.9,307.06 L47.4,306.67 L48.0,306.26 L48.5,305.82 L49.1,305.36 L49.6,304.88 L50.2,304.38 L50.7,303.85 L51.2,303.29 L51.8,302.71 L52.3,302.10 L52.8,301.47 L53.4,300.81 L53.9,300.13 L54.4,299.42 L55.0,298.68 L55.5,297.91 L56.0,297.11 L56.5,296.29 L57.1,295.44 L57.6,294.56 L58.1,293.66 L58.6,292.72 L59.1,291.76 L59.6,290.78 L60.1,289.76 L60.7,288.72 L61.2,287.66 L61.7,286.57 L62.2,285.46 L62.7,284.33 L63.2,283.17 L63.7,281.99 L64.2,280.80 L64.7,279.59 L65.2,278.36 L65.7,277.12 L66.2,275.87 L66.7,274.60 L67.2,273.33 L67.7,272.05 L68.2,270.77 L68.7,269.49 L69.2,268.21 L69.7,266.93 L70.2,265.66 L70.7,264.39 L71.2,263.14 L71.7,261.90 L72.2,260.68 L72.7,259.48 L73.2,258.30 L73.7,257.15 L74.2,256.03 L74.7,254.93 L75.2,253.88 L75.7,252.86 L76.1,251.88 L76.6,250.95 L77.1,250.06 L77.6,249.22 L78.0,248.44 L78.5,247.71 L79.0,247.04 L79.4,246.43 L79.8,245.88 L80.3,245.40 L80.7,244.99 L81.0,244.64 L81.4,244.36 L81.7,244.15 L82.0,244.00 L82.3,243.89 L82.5,243.83 L82.7,243.80 L82.9,243.80 L83.1,243.82 L83.3,243.88 L83.5,243.97 L83.8,244.12 L84.1,244.32 L84.5,244.58 L84.9,244.91 L85.3,245.31 L85.7,245.78 L86.1,246.31 L86.5,246.91 L87.0,247.57 L87.5,248.29 L87.9,249.06 L88.4,249.89 L88.9,250.76 L89.4,251.69 L89.8,252.66 L90.3,253.67 L90.8,254.72 L91.3,255.81 L91.8,256.92 L92.3,258.07 L92.8,259.24 L93.3,260.44 L93.8,261.66 L94.3,262.89 L94.8,264.14 L95.3,265.40 L95.8,266.67 L96.3,267.95 L96.8,269.23 L97.3,270.52 L97.8,271.80 L98.3,273.08 L98.8,274.35 L99.3,275.62 L99.8,276.87 L100.3,278.11 L100.8,279.34 L101.3,280.56 L101.8,281.76 L102.3,282.94 L102.8,284.10 L103.3,285.24 L103.8,286.35 L104.3,287.44 L104.8,288.51 L105.3,289.56 L105.9,290.58 L106.4,291.57 L106.9,292.53 L107.4,293.47 L107.9,294.38 L108.4,295.27 L109.0,296.12 L109.5,296.95 L110.0,297.75 L110.5,298.52 L111.1,299.27 L111.6,299.99 L112.1,300.68 L112.6,301.34 L113.2,301.98 L113.7,302.59 L114.3,303.18 L114.8,303.74 L115.3,304.27 L115.9,304.78 L116.4,305.27 L117.0,305.73 L117.5,306.17 L118.1,306.59 L118.6,306.99 L119.2,307.36 L119.7,307.71 L120.3,308.05 L120.8,308.36 L121.4,308.65 L122.0,308.93 L122.5,309.19 L123.1,309.30 L123.6,309.30 L124.2,309.30" fill="none" stroke="#fff3a8" stroke-width="0.9" stroke-linejoin="round"/>
<path d="M29.5,309.1 q-3.2,0.4 -2.8,-2.4" fill="none" stroke="#ffd460" stroke-width="2.6" stroke-linecap="round"/>
<circle cx="28.4" cy="308.9" r="0.55" fill="#333"/>
<path d="M26.0,412.98 L26.5,412.85 L27.0,412.70 L27.5,412.55 L28.0,412.40 L28.5,412.23 L29.0,412.06 L29.5,411.88 L30.0,411.68 L30.5,411.49 L31.0,411.28 L31.5,411.06 L32.0,410.83 L32.5,410.59 L33.0,410.34 L33.5,410.08 L34.0,409.81 L34.5,409.53 L35.0,409.24 L35.5,408.93 L36.0,408.61 L36.5,408.28 L37.0,407.94 L37.5,407.58 L38.0,407.21 L38.5,406.83 L39.0,406.43 L39.5,406.02 L40.0,405.60 L40.5,405.16 L41.0,404.71 L41.5,404.24 L42.0,403.75 L42.5,403.25 L43.0,402.74 L43.5,402.21 L44.0,401.66 L44.5,401.10 L45.0,400.53 L45.5,399.94 L46.0,399.33 L46.5,398.70 L47.0,398.07 L47.5,397.41 L48.0,396.74 L48.5,396.06 L49.0,395.36 L49.5,394.64 L50.0,393.91 L50.5,393.17 L51.0,392.41 L51.5,391.63 L52.0,390.85 L52.5,390.05 L53.0,389.24 L53.5,388.41 L54.0,387.58 L54.5,386.73 L55.0,385.87 L55.5,385.00 L56.0,384.12 L56.5,383.23 L57.0,382.34 L57.5,381.43 L58.0,380.52 L58.5,379.61 L59.0,378.68 L59.5,377.76 L60.0,376.83 L60.5,375.89 L61.0,374.96 L61.5,374.02 L62.0,373.09 L62.5,372.15 L63.0,371.22 L63.5,370.29 L64.0,369.36 L64.5,368.44 L65.0,367.53 L65.5,366.62 L66.0,365.72 L66.5,364.83 L67.0,363.95 L67.5,363.08 L68.0,362.23 L68.5,361.39 L69.0,360.56 L69.5,359.75 L70.0,358.96 L70.5,358.18 L71.0,357.42 L71.5,356.69 L72.0,355.97 L72.5,355.28 L73.0,354.61 L73.5,353.97 L74.0,353.35 L74.5,352.75 L75.0,352.18 L75.5,351.65 L76.0,351.13 L76.5,350.65 L77.0,350.20 L77.5,349.78 L78.0,349.39 L78.5,349.03 L79.0,348.71 L79.5,348.41 L80.0,348.15 L80.5,347.93 L81.0,347.74 L81.5,347.58 L82.0,347.46 L82.5,347.37 L83.0,347.32 L83.5,347.30 L84.0,347.32 L84.5,347.37 L85.0,347.46 L85.5,347.58 L86.0,347.74 L86.5,347.93 L87.0,348.15 L87.5,348.41 L88.0,348.71 L88.5,349.03 L89.0,349.39 L89.5,349.78 L90.0,350.20 L90.5,350.65 L91.0,351.13 L91.5,351.65 L92.0,352.18 L92.5,352.75 L93.0,353.35 L93.5,353.97 L94.0,354.61 L94.5,355.28 L95.0,355.97 L95.5,356.69 L96.0,357.42 L96.5,358.18 L97.0,358.96 L97.5,359.75 L98.0,360.56 L98.5,361.39 L99.0,362.23 L99.5,363.08 L100.0,363.95 L100.5,364.83 L101.0,365.72 L101.5,366.62 L102.0,367.53 L102.5,368.44 L103.0,369.36 L103.5,370.29 L104.0,371.22 L104.5,372.15 L105.0,373.09 L105.5,374.02 L106.0,374.96 L106.5,375.89 L107.0,376.83 L107.5,377.76 L108.0,378.68 L108.5,379.61 L109.0,380.52 L109.5,381.43 L110.0,382.34 L110.5,383.23 L111.0,384.12 L111.5,385.00 L112.0,385.87 L112.5,386.73 L113.0,387.58 L113.5,388.41 L114.0,389.24 L114.5,390.05 L115.0,390.85 L115.5,391.63 L116.0,392.41 L116.5,393.17 L117.0,393.91 L117.5,394.64 L118.0,395.36 L118.5,396.06 L119.0,396.74 L119.5,397.41 L120.0,398.07 L120.5,398.70 L121.0,399.33 L121.5,399.94 L122.0,400.53 L122.5,401.10 L123.0,401.66 L123.5,402.21 L124.0,402.74 L124.5,403.25 L125.0,403.75 L125.5,404.24 L126.0,404.71 L126.5,405.16 L127.0,405.60 L127.5,406.02 L128.0,406.43 L128.5,406.83 L129.0,407.21 L129.5,407.58 L130.0,407.94 L130.5,408.28 L131.0,408.61 L131.5,408.93 L132.0,409.24 L132.5,409.53 L133.0,409.81 L133.5,410.08 L134.0,410.34 L134.5,410.59 L135.0,410.83 L135.5,411.06 L136.0,411.28 L136.5,411.49 L137.0,411.68 L137.5,411.88 L138.0,412.06 L138.5,412.23 L139.0,412.40 L139.5,412.55 L140.0,412.70 L140.5,412.85 L141.0,412.98 L141.5,413.11 L141.5,414.6 L26.0,414.6 Z" fill="url(#sp3)"/>
<path d="M4.5,414.40 L5.0,414.40 L5.5,414.40 L6.0,414.40 L6.5,414.40 L7.0,414.40 L7.5,414.40 L8.0,414.40 L8.5,414.40 L9.0,414.40 L9.5,414.40 L10.0,414.40 L10.5,414.40 L11.0,414.40 L11.5,414.40 L12.0,414.40 L12.5,414.40 L13.0,414.40 L13.5,414.40 L14.0,414.40 L14.5,414.40 L15.0,414.40 L15.5,414.40 L16.0,414.40 L16.5,414.40 L17.0,414.40 L17.5,414.40 L18.0,414.40 L18.5,414.35 L19.0,414.29 L19.5,414.23 L20.0,414.16 L20.5,414.09 L21.0,414.01 L21.5,413.93 L22.0,413.85 L22.5,413.76 L23.0,413.67 L23.5,413.57 L24.0,413.46 L24.5,413.35 L25.0,413.24 L25.5,413.11 L26.0,412.98 L26.5,412.85 L27.0,412.70 L27.5,412.55 L28.0,412.40 L28.5,412.23 L29.0,412.06 L29.5,411.88 L30.0,411.68 L30.5,411.49 L31.0,411.28 L31.5,411.06 L32.0,410.83 L32.5,410.59 L33.0,410.34 L33.5,410.08 L34.0,409.81 L34.5,409.53 L35.0,409.24 L35.5,408.93 L36.0,408.61 L36.5,408.28 L37.0,407.94 L37.5,407.58 L38.0,407.21 L38.5,406.83 L39.0,406.43 L39.5,406.02 L40.0,405.60 L40.5,405.16 L41.0,404.71 L41.5,404.24 L42.0,403.75 L42.5,403.25 L43.0,402.74 L43.5,402.21 L44.0,401.66 L44.5,401.10 L45.0,400.53 L45.5,399.94 L46.0,399.33 L46.5,398.70 L47.0,398.07 L47.5,397.41 L48.0,396.74 L48.5,396.06 L49.0,395.36 L49.5,394.64 L50.0,393.91 L50.5,393.17 L51.0,392.41 L51.5,391.63 L52.0,390.85 L52.5,390.05 L53.0,389.24 L53.5,388.41 L54.0,387.58 L54.5,386.73 L55.0,385.87 L55.5,385.00 L56.0,384.12 L56.5,383.23 L57.0,382.34 L57.5,381.43 L58.0,380.52 L58.5,379.61 L59.0,378.68 L59.5,377.76 L60.0,376.83 L60.5,375.89 L61.0,374.96 L61.5,374.02 L62.0,373.09 L62.5,372.15 L63.0,371.22 L63.5,370.29 L64.0,369.36 L64.5,368.44 L65.0,367.53 L65.5,366.62 L66.0,365.72 L66.5,364.83 L67.0,363.95 L67.5,363.08 L68.0,362.23 L68.5,361.39 L69.0,360.56 L69.5,359.75 L70.0,358.96 L70.5,358.18 L71.0,357.42 L71.5,356.69 L72.0,355.97 L72.5,355.28 L73.0,354.61 L73.5,353.97 L74.0,353.35 L74.5,352.75 L75.0,352.18 L75.5,351.65 L76.0,351.13 L76.5,350.65 L77.0,350.20 L77.5,349.78 L78.0,349.39 L78.5,349.03 L79.0,348.71 L79.5,348.41 L80.0,348.15 L80.5,347.93 L81.0,347.74 L81.5,347.58 L82.0,347.46 L82.5,347.37 L83.0,347.32 L83.5,347.30 L84.0,347.32 L84.5,347.37 L85.0,347.46 L85.5,347.58 L86.0,347.74 L86.5,347.93 L87.0,348.15 L87.5,348.41 L88.0,348.71 L88.5,349.03 L89.0,349.39 L89.5,349.78 L90.0,350.20 L90.5,350.65 L91.0,351.13 L91.5,351.65 L92.0,352.18 L92.5,352.75 L93.0,353.35 L93.5,353.97 L94.0,354.61 L94.5,355.28 L95.0,355.97 L95.5,356.69 L96.0,357.42 L96.5,358.18 L97.0,358.96 L97.5,359.75 L98.0,360.56 L98.5,361.39 L99.0,362.23 L99.5,363.08 L100.0,363.95 L100.5,364.83 L101.0,365.72 L101.5,366.62 L102.0,367.53 L102.5,368.44 L103.0,369.36 L103.5,370.29 L104.0,371.22 L104.5,372.15 L105.0,373.09 L105.5,374.02 L106.0,374.96 L106.5,375.89 L107.0,376.83 L107.5,377.76 L108.0,378.68 L108.5,379.61 L109.0,380.52 L109.5,381.43 L110.0,382.34 L110.5,383.23 L111.0,384.12 L111.5,385.00 L112.0,385.87 L112.5,386.73 L113.0,387.58 L113.5,388.41 L114.0,389.24 L114.5,390.05 L115.0,390.85 L115.5,391.63 L116.0,392.41 L116.5,393.17 L117.0,393.91 L117.5,394.64 L118.0,395.36 L118.5,396.06 L119.0,396.74 L119.5,397.41 L120.0,398.07 L120.5,398.70 L121.0,399.33 L121.5,399.94 L122.0,400.53 L122.5,401.10 L123.0,401.66 L123.5,402.21 L124.0,402.74 L124.5,403.25 L125.0,403.75 L125.5,404.24 L126.0,404.71 L126.5,405.16 L127.0,405.60 L127.5,406.02 L128.0,406.43 L128.5,406.83 L129.0,407.21 L129.5,407.58 L130.0,407.94 L130.5,408.28 L131.0,408.61 L131.5,408.93 L132.0,409.24 L132.5,409.53 L133.0,409.81 L133.5,410.08 L134.0,410.34 L134.5,410.59 L135.0,410.83 L135.5,411.06 L136.0,411.28 L136.5,411.49 L137.0,411.68 L137.5,411.88 L138.0,412.06 L138.5,412.23 L139.0,412.40 L139.5,412.55 L140.0,412.70 L140.5,412.85 L141.0,412.98 L141.5,413.11 L142.0,413.24 L142.5,413.35 L143.0,413.46 L143.5,413.57 L144.0,413.67 L144.5,413.76 L145.0,413.85 L145.5,413.93 L146.0,414.01 L146.5,414.09 L147.0,414.16 L147.5,414.23 L148.0,414.29 L148.5,414.35 L149.0,414.40 L149.5,414.40 L150.0,414.40 L150.5,414.40 L151.0,414.40 L151.5,414.40 L152.0,414.40 L152.5,414.40 L153.0,414.40 L153.5,414.40 L154.0,414.40 L154.5,414.40 L155.0,414.40 L155.5,414.40 L156.0,414.40 L156.5,414.40 L157.0,414.40 L157.5,414.40 L158.0,414.40 L158.5,414.40 L159.0,414.40 L159.5,414.40 L160.0,414.40 L160.5,414.40" fill="none" stroke="#ffd460" stroke-width="4.5" stroke-linecap="butt" stroke-linejoin="round"/>
<path d="M24.5,414.60 L25.0,414.60 L25.6,414.60 L26.1,414.60 L26.6,414.60 L27.1,414.60 L27.7,414.60 L28.2,414.60 L28.7,414.60 L29.3,414.50 L29.8,414.32 L30.3,414.12 L30.9,413.92 L31.4,413.71 L31.9,413.48 L32.5,413.25 L33.0,413.00 L33.6,412.75 L34.1,412.48 L34.6,412.20 L35.2,411.91 L35.7,411.61 L36.2,411.29 L36.8,410.97 L37.3,410.63 L37.8,410.27 L38.4,409.91 L38.9,409.53 L39.4,409.13 L40.0,408.72 L40.5,408.30 L41.0,407.87 L41.6,407.41 L42.1,406.95 L42.6,406.47 L43.2,405.97 L43.7,405.46 L44.2,404.94 L44.7,404.40 L45.3,403.84 L45.8,403.27 L46.3,402.69 L46.8,402.09 L47.3,401.47 L47.9,400.84 L48.4,400.19 L48.9,399.53 L49.4,398.86 L49.9,398.17 L50.4,397.46 L51.0,396.74 L51.5,396.01 L52.0,395.26 L52.5,394.50 L53.0,393.72 L53.5,392.93 L54.0,392.13 L54.5,391.31 L55.0,390.49 L55.6,389.65 L56.1,388.80 L56.6,387.94 L57.1,387.07 L57.6,386.19 L58.1,385.30 L58.6,384.41 L59.1,383.50 L59.6,382.59 L60.1,381.67 L60.6,380.75 L61.1,379.83 L61.6,378.90 L62.1,377.96 L62.6,377.03 L63.1,376.09 L63.6,375.15 L64.1,374.22 L64.6,373.28 L65.1,372.35 L65.6,371.43 L66.1,370.50 L66.6,369.59 L67.1,368.68 L67.6,367.78 L68.1,366.89 L68.6,366.01 L69.1,365.14 L69.6,364.29 L70.1,363.45 L70.6,362.62 L71.0,361.81 L71.5,361.02 L72.0,360.25 L72.5,359.49 L73.0,358.76 L73.5,358.05 L74.0,357.36 L74.4,356.70 L74.9,356.06 L75.4,355.45 L75.9,354.87 L76.3,354.32 L76.8,353.79 L77.2,353.30 L77.7,352.84 L78.1,352.41 L78.6,352.01 L79.0,351.64 L79.4,351.31 L79.9,351.01 L80.3,350.75 L80.7,350.51 L81.0,350.31 L81.4,350.14 L81.8,350.00 L82.1,349.89 L82.5,349.81 L82.8,349.75 L83.2,349.71 L83.5,349.70 L83.8,349.71 L84.2,349.75 L84.5,349.81 L84.9,349.89 L85.2,350.00 L85.6,350.14 L86.0,350.31 L86.3,350.51 L86.7,350.75 L87.1,351.01 L87.6,351.31 L88.0,351.64 L88.4,352.01 L88.9,352.41 L89.3,352.84 L89.8,353.30 L90.2,353.79 L90.7,354.32 L91.1,354.87 L91.6,355.45 L92.1,356.06 L92.6,356.70 L93.0,357.36 L93.5,358.05 L94.0,358.76 L94.5,359.49 L95.0,360.25 L95.5,361.02 L96.0,361.81 L96.4,362.62 L96.9,363.45 L97.4,364.29 L97.9,365.14 L98.4,366.01 L98.9,366.89 L99.4,367.78 L99.9,368.68 L100.4,369.59 L100.9,370.50 L101.4,371.43 L101.9,372.35 L102.4,373.28 L102.9,374.22 L103.4,375.15 L103.9,376.09 L104.4,377.03 L104.9,377.96 L105.4,378.90 L105.9,379.83 L106.4,380.75 L106.9,381.67 L107.4,382.59 L107.9,383.50 L108.4,384.41 L108.9,385.30 L109.4,386.19 L109.9,387.07 L110.4,387.94 L110.9,388.80 L111.4,389.65 L112.0,390.49 L112.5,391.31 L113.0,392.13 L113.5,392.93 L114.0,393.72 L114.5,394.50 L115.0,395.26 L115.5,396.01 L116.0,396.74 L116.6,397.46 L117.1,398.17 L117.6,398.86 L118.1,399.53 L118.6,400.19 L119.1,400.84 L119.7,401.47 L120.2,402.09 L120.7,402.69 L121.2,403.27 L121.7,403.84 L122.3,404.40 L122.8,404.94 L123.3,405.46 L123.8,405.97 L124.4,406.47 L124.9,406.95 L125.4,407.41 L126.0,407.87 L126.5,408.30 L127.0,408.72 L127.6,409.13 L128.1,409.53 L128.6,409.91 L129.2,410.27 L129.7,410.63 L130.2,410.97 L130.8,411.29 L131.3,411.61 L131.8,411.91 L132.4,412.20 L132.9,412.48 L133.4,412.75 L134.0,413.00 L134.5,413.25 L135.1,413.48 L135.6,413.71 L136.1,413.92 L136.7,414.12 L137.2,414.32 L137.7,414.50 L138.3,414.60 L138.8,414.60 L139.3,414.60 L139.9,414.60 L140.4,414.60 L140.9,414.60 L141.4,414.60 L142.0,414.60 L142.5,414.60 L143.0,414.60" fill="none" stroke="#fff3a8" stroke-width="0.9" stroke-linejoin="round"/>
<path d="M5.0,414.4 q-3.2,0.4 -2.8,-2.4" fill="none" stroke="#ffd460" stroke-width="2.6" stroke-linecap="round"/>
<circle cx="3.9" cy="414.2" r="0.55" fill="#333"/>
<circle cx="82.4" cy="213.3" r="2.45" fill="#000"/>
<circle cx="82.4" cy="222.2" r="2.45" fill="#000"/>
<circle cx="82.4" cy="231.0" r="2.45" fill="#000"/>
<circle cx="81.5" cy="319.3" r="2.45" fill="#000"/>
<circle cx="81.5" cy="328.1" r="2.45" fill="#000"/>
<circle cx="81.5" cy="337.1" r="2.45" fill="#000"/>
<text class="sb" font-size="19.6" transform="translate(161.30 134.60) scale(0.8439 1)" stroke="#000" stroke-width="0.55" stroke-linejoin="round">X</text>
<text class="sb" font-size="19.0" transform="translate(412.20 134.20) scale(0.7915 1)" stroke="#000" stroke-width="0.55" stroke-linejoin="round">Y</text>
<line x1="165.0" y1="143" x2="165.0" y2="153.5" stroke="#000" stroke-width="1.5"/>
<line x1="169.7" y1="143" x2="169.7" y2="153.5" stroke="#000" stroke-width="1.5"/>
<line x1="415.4" y1="144.4" x2="415.4" y2="154.6" stroke="#000" stroke-width="1.5"/>
<line x1="420.1" y1="144.4" x2="420.1" y2="154.6" stroke="#000" stroke-width="1.5"/>
<path d="M155.9,162.0 Q155.9,158.4 159.1,158.4 L163.8,158.4 Q166.9,158.4 166.9,155.8 Q166.9,158.4 170.1,158.4 L174.8,158.4 Q178.0,158.4 178.0,162.0" fill="none" stroke="#000" stroke-width="1.5" stroke-linecap="round" stroke-linejoin="round"/>
<path d="M405.9,162.6 Q405.9,158.9 409.1,158.9 L413.8,158.9 Q417.0,158.9 417.0,156.3 Q417.0,158.9 420.2,158.9 L424.9,158.9 Q428.1,158.9 428.1,162.6" fill="none" stroke="#000" stroke-width="1.5" stroke-linecap="round" stroke-linejoin="round"/>
<path d="M156.0,402.2 Q156.0,405.2 159.2,405.2 L163.9,405.2 Q167.1,405.2 167.1,408.8 Q167.1,405.2 170.3,405.2 L175.0,405.2 Q178.2,405.2 178.2,402.2" fill="none" stroke="#000" stroke-width="1.5" stroke-linecap="round" stroke-linejoin="round"/>
<path d="M406.0,403.6 Q406.0,406.4 409.2,406.4 L414.2,406.4 Q417.4,406.4 417.4,409.8 Q417.4,406.4 420.6,406.4 L425.6,406.4 Q428.8,406.4 428.8,403.6" fill="none" stroke="#000" stroke-width="1.5" stroke-linecap="round" stroke-linejoin="round"/>
<circle cx="161.3" cy="222.3" r="1.42" fill="#000"/>
<circle cx="161.3" cy="228.3" r="1.42" fill="#000"/>
<circle cx="161.3" cy="234.3" r="1.42" fill="#000"/>
<circle cx="161.1" cy="330.8" r="1.42" fill="#000"/>
<circle cx="161.1" cy="336.8" r="1.42" fill="#000"/>
<circle cx="161.1" cy="342.9" r="1.42" fill="#000"/>
<circle cx="411.4" cy="223.4" r="1.42" fill="#000"/>
<circle cx="411.4" cy="229.3" r="1.42" fill="#000"/>
<circle cx="411.4" cy="235.3" r="1.42" fill="#000"/>
<circle cx="411.5" cy="332.6" r="1.42" fill="#000"/>
<circle cx="411.5" cy="338.3" r="1.42" fill="#000"/>
<circle cx="411.5" cy="344.0" r="1.42" fill="#000"/>
<text class="rb" font-size="14.6" transform="translate(154.00 177.40) scale(1.0455 1)" letter-spacing="0.7" stroke="#000" stroke-width="0.3" stroke-linejoin="round">spe</text>
<text class="rb" font-size="10.511999999999999" transform="translate(177.20 180.61) scale(1.0455 1)" letter-spacing="0.7" stroke="#000" stroke-width="0.3" stroke-linejoin="round">1</text>
<text class="rb" font-size="14.6" transform="translate(153.80 283.10) scale(1.0502 1)" letter-spacing="0.7" stroke="#000" stroke-width="0.3" stroke-linejoin="round">spe</text>
<text class="rb" font-size="10.511999999999999" transform="translate(177.11 286.31) scale(1.0502 1)" letter-spacing="0.7" stroke="#000" stroke-width="0.3" stroke-linejoin="round">i</text>
<text class="rb" font-size="14.6" transform="translate(154.20 388.20) scale(1.0118 1)" letter-spacing="0.7" stroke="#000" stroke-width="0.3" stroke-linejoin="round">spe</text>
<text class="rbi" font-size="10.511999999999999" transform="translate(176.82 391.41) scale(1.0118 1)" letter-spacing="0.7" stroke="#000" stroke-width="0.3" stroke-linejoin="round">M</text>
<text class="rb" font-size="14.6" transform="translate(403.00 178.10) scale(1.0040 1)" letter-spacing="0.3" stroke="#000" stroke-width="0.3" stroke-linejoin="round">para</text>
<text class="rb" font-size="10.511999999999999" transform="translate(433.72 181.31) scale(1.0040 1)" letter-spacing="0.3" stroke="#000" stroke-width="0.3" stroke-linejoin="round">1</text>
<text class="rb" font-size="14.6" transform="translate(403.00 283.10) scale(0.9987 1)" letter-spacing="0.3" stroke="#000" stroke-width="0.3" stroke-linejoin="round">para</text>
<text class="rbi" font-size="10.511999999999999" transform="translate(433.56 286.31) scale(0.9987 1)" letter-spacing="0.3" stroke="#000" stroke-width="0.3" stroke-linejoin="round">i</text>
<text class="rb" font-size="14.6" transform="translate(401.60 388.10) scale(0.9844 1)" letter-spacing="0.3" stroke="#000" stroke-width="0.3" stroke-linejoin="round">para</text>
<text class="rbi" font-size="10.511999999999999" transform="translate(431.88 391.31) scale(0.9844 1)" letter-spacing="0.3" stroke="#000" stroke-width="0.3" stroke-linejoin="round">M</text>
<path d="M222.7,149.8 L215.0,149.8 Q212.0,149.8 212.0,152.8 L212.0,194.4 Q212.0,197.4 215.0,197.4 L222.7,197.4" fill="none" stroke="#000" stroke-width="1.7" stroke-linecap="round" stroke-linejoin="round"/>
<path d="M212.0,170.8 Q211.4,172.9 208.0,172.9 L201.9,172.9 L201.9,174.8 L208.0,174.8 Q211.4,174.8 212.0,176.8 Z" fill="#000"/>
<path d="M223.6,253.8 L215.5,253.8 Q212.5,253.8 212.5,256.8 L212.5,298.4 Q212.5,301.4 215.5,301.4 L223.6,301.4" fill="none" stroke="#000" stroke-width="1.7" stroke-linecap="round" stroke-linejoin="round"/>
<path d="M212.5,274.5 Q211.9,276.6 208.5,276.6 L202.0,276.6 L202.0,278.4 L208.5,278.4 Q211.9,278.4 212.5,280.5 Z" fill="#000"/>
<path d="M224.0,363.0 L216.2,363.0 Q213.2,363.0 213.2,366.0 L213.2,408.0 Q213.2,411.0 216.2,411.0 L224.0,411.0" fill="none" stroke="#000" stroke-width="1.7" stroke-linecap="round" stroke-linejoin="round"/>
<path d="M213.2,383.8 Q212.6,385.9 209.2,385.9 L202.7,385.9 L202.7,387.8 L209.2,387.8 Q212.6,387.8 213.2,389.8 Z" fill="#000"/>
<path d="M476.7,134.7 L469.2,134.7 Q466.2,134.7 466.2,137.7 L466.2,208.0 Q466.2,211.0 469.2,211.0 L476.7,211.0" fill="none" stroke="#000" stroke-width="1.7" stroke-linecap="round" stroke-linejoin="round"/>
<path d="M466.2,169.4 Q465.6,171.5 462.2,171.5 L456.2,171.5 L456.2,173.3 L462.2,173.3 Q465.6,173.3 466.2,175.4 Z" fill="#000"/>
<path d="M476.7,241.2 L469.2,241.2 Q466.2,241.2 466.2,244.2 L466.2,314.6 Q466.2,317.6 469.2,317.6 L476.7,317.6" fill="none" stroke="#000" stroke-width="1.7" stroke-linecap="round" stroke-linejoin="round"/>
<path d="M466.2,276.3 Q465.6,278.4 462.2,278.4 L456.2,278.4 L456.2,280.2 L462.2,280.2 Q465.6,280.2 466.2,282.3 Z" fill="#000"/>
<path d="M476.6,343.5 L469.3,343.5 Q466.3,343.5 466.3,346.5 L466.3,417.1 Q466.3,420.1 469.3,420.1 L476.6,420.1" fill="none" stroke="#000" stroke-width="1.7" stroke-linecap="round" stroke-linejoin="round"/>
<path d="M466.3,378.7 Q465.7,380.8 462.3,380.8 L455.6,380.8 L455.6,382.6 L462.3,382.6 Q465.7,382.6 466.3,384.7 Z" fill="#000"/>
<text class="rbi" font-size="11.0" transform="translate(234.90 154.80) scale(1.0416 1)" letter-spacing="0.9" stroke="#000" stroke-width="0.2" stroke-linejoin="round">inspe</text>
<text class="rb" font-size="7.92" transform="translate(263.98 158.10) scale(1.0416 1)" letter-spacing="0.9" stroke="#000" stroke-width="0.2" stroke-linejoin="round">1</text>
<text class="rbi" font-size="11.0" transform="translate(235.40 199.70) scale(1.1102 1)" letter-spacing="0.9" stroke="#000" stroke-width="0.2" stroke-linejoin="round">fispe</text>
<text class="rb" font-size="7.92" transform="translate(263.70 203.00) scale(1.1102 1)" letter-spacing="0.9" stroke="#000" stroke-width="0.2" stroke-linejoin="round">1</text>
<text class="rbi" font-size="11.0" transform="translate(235.50 259.40) scale(1.0454 1)" letter-spacing="0.9" stroke="#000" stroke-width="0.2" stroke-linejoin="round">inspe</text>
<text class="rbi" font-size="7.92" transform="translate(264.68 262.70) scale(1.0454 1)" letter-spacing="0.9" stroke="#000" stroke-width="0.2" stroke-linejoin="round">i</text>
<text class="rbi" font-size="11.0" transform="translate(235.50 304.70) scale(1.1367 1)" letter-spacing="0.9" stroke="#000" stroke-width="0.2" stroke-linejoin="round">fispe</text>
<text class="rbi" font-size="7.92" transform="translate(264.48 308.00) scale(1.1367 1)" letter-spacing="0.9" stroke="#000" stroke-width="0.2" stroke-linejoin="round">i</text>
<text class="rbi" font-size="11.0" transform="translate(235.80 368.00) scale(1.0249 1)" letter-spacing="0.9" stroke="#000" stroke-width="0.2" stroke-linejoin="round">inspe</text>
<text class="rbi" font-size="7.92" transform="translate(264.53 371.30) scale(1.0249 1)" letter-spacing="0.9" stroke="#000" stroke-width="0.2" stroke-linejoin="round">M</text>
<text class="rbi" font-size="11.0" transform="translate(236.50 413.30) scale(1.0790 1)" letter-spacing="0.9" stroke="#000" stroke-width="0.2" stroke-linejoin="round">fispe</text>
<text class="rbi" font-size="7.92" transform="translate(264.14 416.60) scale(1.0790 1)" letter-spacing="0.9" stroke="#000" stroke-width="0.2" stroke-linejoin="round">M</text>
<text class="rbi" font-size="10.9" transform="translate(489.40 177.50) scale(0.9946 1)" stroke="#000" stroke-width="0.2" stroke-linejoin="round">TFWHM</text>
<text class="rb" font-size="7.848" transform="translate(531.80 179.90) scale(0.9946 1)" stroke="#000" stroke-width="0.2" stroke-linejoin="round">1</text>
<text class="rbi" font-size="10.9" transform="translate(489.91 139.40) scale(0.9946 1)" stroke="#000" stroke-width="0.2" stroke-linejoin="round">E</text>
<text class="rb" font-size="7.848" transform="translate(497.61 141.80) scale(0.9946 1)" stroke="#000" stroke-width="0.2" stroke-linejoin="round">1</text>
<text class="rbi" font-size="10.9" transform="translate(489.80 157.80) scale(0.9946 1)" stroke="#000" stroke-width="0.2" stroke-linejoin="round">r</text>
<text class="rb" font-size="7.848" transform="translate(494.63 160.20) scale(0.9946 1)" stroke="#000" stroke-width="0.2" stroke-linejoin="round">1</text>
<text class="rbi" font-size="10.9" transform="translate(489.91 195.90) scale(0.9946 1)" stroke="#000" stroke-width="0.2" stroke-linejoin="round">B</text>
<text class="rb" font-size="7.848" transform="translate(497.61 198.30) scale(0.9946 1)" stroke="#000" stroke-width="0.2" stroke-linejoin="round">1</text>
<text class="rbi" font-size="10.9" transform="translate(489.85 214.00) scale(0.9946 1)" stroke="#000" stroke-width="0.2" stroke-linejoin="round">P</text>
<text class="rb" font-size="7.848" transform="translate(497.07 216.40) scale(0.9946 1)" stroke="#000" stroke-width="0.2" stroke-linejoin="round">1</text>
<text class="rbi" font-size="10.9" transform="translate(489.20 284.10) scale(1.0061 1)" stroke="#000" stroke-width="0.2" stroke-linejoin="round">TFWHM</text>
<text class="rbi" font-size="7.848" transform="translate(532.09 286.50) scale(1.0061 1)" stroke="#000" stroke-width="0.2" stroke-linejoin="round">i</text>
<text class="rbi" font-size="10.9" transform="translate(489.71 246.40) scale(1.0061 1)" stroke="#000" stroke-width="0.2" stroke-linejoin="round">E</text>
<text class="rbi" font-size="7.848" transform="translate(497.51 248.80) scale(1.0061 1)" stroke="#000" stroke-width="0.2" stroke-linejoin="round">i</text>
<text class="rbi" font-size="10.9" transform="translate(489.60 264.80) scale(1.0061 1)" stroke="#000" stroke-width="0.2" stroke-linejoin="round">r</text>
<text class="rbi" font-size="7.848" transform="translate(494.49 267.20) scale(1.0061 1)" stroke="#000" stroke-width="0.2" stroke-linejoin="round">i</text>
<text class="rbi" font-size="10.9" transform="translate(489.71 301.30) scale(1.0061 1)" stroke="#000" stroke-width="0.2" stroke-linejoin="round">B</text>
<text class="rbi" font-size="7.848" transform="translate(497.51 303.70) scale(1.0061 1)" stroke="#000" stroke-width="0.2" stroke-linejoin="round">i</text>
<text class="rbi" font-size="10.9" transform="translate(489.65 319.10) scale(1.0061 1)" stroke="#000" stroke-width="0.2" stroke-linejoin="round">P</text>
<text class="rbi" font-size="7.848" transform="translate(496.96 321.50) scale(1.0061 1)" stroke="#000" stroke-width="0.2" stroke-linejoin="round">i</text>
<text class="rbi" font-size="10.9" transform="translate(490.30 386.30) scale(1.0067 1)" stroke="#000" stroke-width="0.2" stroke-linejoin="round">TFWHM</text>
<text class="rbi" font-size="7.848" transform="translate(533.33 388.70) scale(1.0067 1)" stroke="#000" stroke-width="0.2" stroke-linejoin="round">M</text>
<text class="rbi" font-size="10.9" transform="translate(490.81 348.60) scale(1.0067 1)" stroke="#000" stroke-width="0.2" stroke-linejoin="round">E</text>
<text class="rbi" font-size="7.848" transform="translate(498.73 351.00) scale(1.0067 1)" stroke="#000" stroke-width="0.2" stroke-linejoin="round">M</text>
<text class="rbi" font-size="10.9" transform="translate(490.70 366.90) scale(1.0067 1)" stroke="#000" stroke-width="0.2" stroke-linejoin="round">r</text>
<text class="rbi" font-size="7.848" transform="translate(495.71 369.30) scale(1.0067 1)" stroke="#000" stroke-width="0.2" stroke-linejoin="round">M</text>
<text class="rbi" font-size="10.9" transform="translate(490.81 404.10) scale(1.0067 1)" stroke="#000" stroke-width="0.2" stroke-linejoin="round">B</text>
<text class="rbi" font-size="7.848" transform="translate(498.73 406.50) scale(1.0067 1)" stroke="#000" stroke-width="0.2" stroke-linejoin="round">M</text>
<text class="rbi" font-size="10.9" transform="translate(490.75 421.70) scale(1.0067 1)" stroke="#000" stroke-width="0.2" stroke-linejoin="round">P</text>
<text class="rbi" font-size="7.848" transform="translate(498.18 424.10) scale(1.0067 1)" stroke="#000" stroke-width="0.2" stroke-linejoin="round">M</text>
<polygon points="282.60,171.40 291.10,164.00 291.10,167.70 383.90,167.70 383.90,164.00 392.40,171.40 383.90,178.80 383.90,175.10 291.10,175.10 291.10,178.80" fill="#ffd966" stroke="#4a72c4" stroke-width="1" stroke-linejoin="miter"/>
<polygon points="283.00,279.40 291.50,272.00 291.50,275.70 384.10,275.70 384.10,272.00 392.60,279.40 384.10,286.80 384.10,283.10 291.50,283.10 291.50,286.80" fill="#ffd966" stroke="#4a72c4" stroke-width="1" stroke-linejoin="miter"/>
<polygon points="283.00,383.30 291.50,375.90 291.50,379.60 384.10,379.60 384.10,375.90 392.60,383.30 384.10,390.70 384.10,387.00 291.50,387.00 291.50,390.70" fill="#ffd966" stroke="#4a72c4" stroke-width="1" stroke-linejoin="miter"/>
<rect x="298.6" y="147.8" width="78.2" height="259.8" rx="11.5" ry="11.5" fill="none" stroke="#1d3773" stroke-width="2.1" stroke-dasharray="7.2 2.9"/>
<text class="sb" font-size="17" transform="translate(310.30 263.50) scale(0.9646 1)">Neural</text>
<text class="sb" font-size="17" transform="translate(304.65 309.90) scale(1.0082 1)">Network</text>
<text class="s" font-size="23.8" transform="translate(580.40 17.40) scale(0.8817 1)" stroke="#000" stroke-width="0.55" stroke-linejoin="round">(b)</text>
<polygon points="643.00,28.00 646.60,50.70 595.30,242.30 593.00,220.40" fill="url(#g5)" />
<polygon points="582.00,218.10 593.70,219.80 595.30,242.30 585.00,241.30" fill="#4a2370" />
<polygon points="633.30,27.30 643.70,28.00 593.70,220.40 582.00,218.70" fill="url(#g4)" />
<polygon points="680.00,36.40 683.60,59.40 636.70,234.00 634.00,212.00" fill="url(#g7)" />
<polygon points="623.30,210.10 634.70,211.40 636.70,234.00 626.70,232.90" fill="#4a2370" />
<polygon points="669.30,35.90 680.70,36.40 634.70,212.00 623.30,210.70" fill="url(#g6)" />
<polygon points="713.50,56.90 716.80,80.20 680.90,213.70 678.60,192.00" fill="url(#g9)" />
<polygon points="668.00,190.10 679.30,191.40 680.90,213.70 670.70,212.40" fill="#4a2370" />
<polygon points="703.30,56.20 714.20,56.90 679.30,192.00 668.00,190.70" fill="url(#g8)" />
<polygon points="644.04,51.85 658.25,51.85 658.25,50.75 662.65,52.80 658.25,54.85 658.25,53.75 644.04,53.75" fill="#ff1812" />
<polygon points="642.35,58.15 656.59,58.15 656.59,57.05 660.99,59.10 656.59,61.15 656.59,60.05 642.35,60.05" fill="#ff200e" />
<polygon points="640.66,64.45 654.94,64.45 654.94,63.35 659.34,65.40 654.94,67.45 654.94,66.35 640.66,66.35" fill="#ff3e08" />
<polygon points="638.98,70.75 653.28,70.75 653.28,69.65 657.68,71.70 653.28,73.75 653.28,72.65 638.98,72.65" fill="#ff7201" />
<polygon points="637.29,77.05 651.62,77.05 651.62,75.95 656.02,78.00 651.62,80.05 651.62,78.95 637.29,78.95" fill="#ff9600" />
<polygon points="635.60,83.35 649.96,83.35 649.96,82.25 654.36,84.30 649.96,86.35 649.96,85.25 635.60,85.25" fill="#ffb800" />
<polygon points="633.92,89.65 648.31,89.65 648.31,88.55 652.71,90.60 648.31,92.65 648.31,91.55 633.92,91.55" fill="#ffd800" />
<polygon points="632.23,95.95 646.65,95.95 646.65,94.85 651.05,96.90 646.65,98.95 646.65,97.85 632.23,97.85" fill="#fff700" />
<polygon points="630.54,102.25 644.99,102.25 644.99,101.15 649.39,103.20 644.99,105.25 644.99,104.15 630.54,104.15" fill="#fbfd00" />
<polygon points="628.86,108.55 643.33,108.55 643.33,107.45 647.73,109.50 643.33,111.55 643.33,110.45 628.86,110.45" fill="#f5fb00" />
<polygon points="627.17,114.85 641.67,114.85 641.67,113.75 646.07,115.80 641.67,117.85 641.67,116.75 627.17,116.75" fill="#f0f800" />
<polygon points="625.48,121.15 640.02,121.15 640.02,120.05 644.42,122.10 640.02,124.15 640.02,123.05 625.48,123.05" fill="#d4ee14" />
<polygon points="623.80,127.45 638.36,127.45 638.36,126.35 642.76,128.40 638.36,130.45 638.36,129.35 623.80,129.35" fill="#b8e428" />
<polygon points="622.11,133.75 636.70,133.75 636.70,132.65 641.10,134.70 636.70,136.75 636.70,135.65 622.11,135.65" fill="#75da71" />
<polygon points="620.42,140.05 635.04,140.05 635.04,138.95 639.44,141.00 635.04,143.05 635.04,141.95 620.42,141.95" fill="#3ec8af" />
<polygon points="618.74,146.35 633.38,146.35 633.38,145.25 637.78,147.30 633.38,149.35 633.38,148.25 618.74,148.25" fill="#10b0e4" />
<polygon points="617.05,152.65 631.73,152.65 631.73,151.55 636.13,153.60 631.73,155.65 631.73,154.55 617.05,154.55" fill="#0c94d6" />
<polygon points="615.36,158.95 630.07,158.95 630.07,157.85 634.47,159.90 630.07,161.95 630.07,160.85 615.36,160.85" fill="#0878c8" />
<polygon points="613.68,165.25 628.41,165.25 628.41,164.15 632.81,166.20 628.41,168.25 628.41,167.15 613.68,167.15" fill="#085db3" />
<polygon points="611.99,171.55 626.75,171.55 626.75,170.45 631.15,172.50 626.75,174.55 626.75,173.45 611.99,173.45" fill="#0c3f99" />
<polygon points="610.30,177.85 625.09,177.85 625.09,176.75 629.49,178.80 625.09,180.85 625.09,179.75 610.30,179.75" fill="#15227f" />
<polygon points="608.62,184.15 623.44,184.15 623.44,183.05 627.84,185.10 623.44,187.15 623.44,186.05 608.62,186.05" fill="#2c238a" />
<polygon points="606.93,190.45 621.78,190.45 621.78,189.35 626.18,191.40 621.78,193.45 621.78,192.35 606.93,192.35" fill="#442494" />
<polygon points="605.24,196.75 620.12,196.75 620.12,195.65 624.52,197.70 620.12,199.75 620.12,198.65 605.24,198.65" fill="#5a2a9f" />
<polygon points="603.55,203.05 618.46,203.05 618.46,201.95 622.86,204.00 618.46,206.05 618.46,204.95 603.55,204.95" fill="#7131aa" />
<polygon points="680.26,63.45 694.55,63.45 694.55,62.35 698.95,64.40 694.55,66.45 694.55,65.35 680.26,65.35" fill="#ff1812" />
<polygon points="678.57,69.73 692.90,69.73 692.90,68.63 697.30,70.68 692.90,72.73 692.90,71.63 678.57,71.63" fill="#ff210d" />
<polygon points="676.89,76.00 691.25,76.00 691.25,74.90 695.65,76.95 691.25,79.00 691.25,77.90 676.89,77.90" fill="#ff4d06" />
<polygon points="675.20,82.28 689.61,82.28 689.61,81.18 694.01,83.23 689.61,85.28 689.61,84.18 675.20,84.18" fill="#ff8200" />
<polygon points="673.51,88.55 687.96,88.55 687.96,87.45 692.36,89.50 687.96,91.55 687.96,90.45 673.51,90.45" fill="#ffa900" />
<polygon points="671.83,94.83 686.31,94.83 686.31,93.73 690.71,95.78 686.31,97.83 686.31,96.73 671.83,96.73" fill="#ffcf00" />
<polygon points="670.14,101.11 684.66,101.11 684.66,100.01 689.06,102.06 684.66,104.11 684.66,103.01 670.14,103.01" fill="#fff300" />
<polygon points="668.46,107.38 683.02,107.38 683.02,106.28 687.42,108.33 683.02,110.38 683.02,109.28 668.46,109.28" fill="#fbfd00" />
<polygon points="666.77,113.66 681.37,113.66 681.37,112.56 685.77,114.61 681.37,116.66 681.37,115.56 666.77,115.56" fill="#f5fa00" />
<polygon points="665.08,119.94 679.72,119.94 679.72,118.84 684.12,120.89 679.72,122.94 679.72,121.84 665.08,121.84" fill="#e8f506" />
<polygon points="663.40,126.21 678.08,126.21 678.08,125.11 682.48,127.16 678.08,129.21 678.08,128.11 663.40,128.11" fill="#c8ea1d" />
<polygon points="661.71,132.49 676.43,132.49 676.43,131.39 680.83,133.44 676.43,135.49 676.43,134.39 661.71,134.39" fill="#92de52" />
<polygon points="660.03,138.76 674.78,138.76 674.78,137.66 679.18,139.71 674.78,141.76 674.78,140.66 660.03,140.66" fill="#4bcf9f" />
<polygon points="658.34,145.04 673.13,145.04 673.13,143.94 677.53,145.99 673.13,148.04 673.13,146.94 658.34,146.94" fill="#17b3dc" />
<polygon points="656.65,151.32 671.49,151.32 671.49,150.22 675.89,152.27 671.49,154.32 671.49,153.22 656.65,153.22" fill="#0c94d6" />
<polygon points="654.97,157.59 669.84,157.59 669.84,156.49 674.24,158.54 669.84,160.59 669.84,159.49 654.97,159.49" fill="#0874c5" />
<polygon points="653.28,163.87 668.19,163.87 668.19,162.77 672.59,164.82 668.19,166.87 668.19,165.77 653.28,165.77" fill="#0856ad" />
<polygon points="651.60,170.15 666.55,170.15 666.55,169.05 670.95,171.10 666.55,173.15 666.55,172.05 651.60,172.05" fill="#0f318c" />
<polygon points="649.91,176.42 664.90,176.42 664.90,175.32 669.30,177.37 664.90,179.42 664.90,178.32 649.91,178.32" fill="#222385" />
<polygon points="648.23,182.70 663.25,182.70 663.25,181.60 667.65,183.65 663.25,185.70 663.25,184.60 648.23,184.60" fill="#3d2491" />
<polygon points="646.54,188.97 661.60,188.97 661.60,187.87 666.00,189.92 661.60,191.97 661.60,190.87 646.54,190.87" fill="#57299e" />
<polygon points="644.85,195.25 659.96,195.25 659.96,194.15 664.36,196.20 659.96,198.25 659.96,197.15 644.85,197.15" fill="#7131aa" />
<polygon points="900.90,56.60 904.50,76.00 868.50,212.90 865.60,191.40" fill="url(#g11)" />
<polygon points="855.50,189.60 866.30,190.80 868.50,212.90 858.60,212.00" fill="#4a2370" />
<polygon points="890.80,56.20 901.60,56.60 866.30,191.40 855.50,190.20" fill="url(#g10)" />
<polygon points="945.80,36.50 949.40,59.20 902.00,234.00 899.30,211.70" fill="url(#g13)" />
<polygon points="889.10,209.70 900.00,211.10 902.00,234.00 892.00,233.10" fill="#4a2370" />
<polygon points="935.70,35.70 946.50,36.50 900.00,211.70 889.10,210.30" fill="url(#g12)" />
<polygon points="987.00,27.70 990.60,50.30 939.10,242.50 935.90,220.20" fill="url(#g15)" />
<polygon points="926.00,218.30 936.60,219.60 939.10,242.50 928.50,241.50" fill="#4a2370" />
<polygon points="976.50,27.10 987.70,27.70 936.60,220.20 926.00,218.90" fill="url(#g14)" />
<polygon points="904.00,69.35 919.87,69.35 919.87,68.25 924.27,70.30 919.87,72.35 919.87,71.25 904.00,71.25" fill="#ff1812" />
<polygon points="902.35,75.62 918.19,75.62 918.19,74.52 922.59,76.57 918.19,78.62 918.19,77.52 902.35,77.52" fill="#ff210d" />
<polygon points="900.70,81.89 916.52,81.89 916.52,80.79 920.92,82.84 916.52,84.89 916.52,83.79 900.70,83.79" fill="#ff4d06" />
<polygon points="899.05,88.16 914.84,88.16 914.84,87.06 919.24,89.11 914.84,91.16 914.84,90.06 899.05,90.06" fill="#ff8200" />
<polygon points="897.40,94.44 913.17,94.44 913.17,93.34 917.57,95.39 913.17,97.44 913.17,96.34 897.40,96.34" fill="#ffa900" />
<polygon points="895.75,100.71 911.50,100.71 911.50,99.61 915.90,101.66 911.50,103.71 911.50,102.61 895.75,102.61" fill="#ffcf00" />
<polygon points="894.10,106.98 909.82,106.98 909.82,105.88 914.22,107.93 909.82,109.98 909.82,108.88 894.10,108.88" fill="#fff300" />
<polygon points="892.45,113.25 908.15,113.25 908.15,112.15 912.55,114.20 908.15,116.25 908.15,115.15 892.45,115.15" fill="#fbfd00" />
<polygon points="890.81,119.52 906.47,119.52 906.47,118.42 910.87,120.47 906.47,122.52 906.47,121.42 890.81,121.42" fill="#f5fa00" />
<polygon points="889.16,125.79 904.80,125.79 904.80,124.69 909.20,126.74 904.80,128.79 904.80,127.69 889.16,127.69" fill="#e8f506" />
<polygon points="887.51,132.06 903.13,132.06 903.13,130.96 907.53,133.01 903.13,135.06 903.13,133.96 887.51,133.96" fill="#c8ea1d" />
<polygon points="885.86,138.34 901.45,138.34 901.45,137.24 905.85,139.29 901.45,141.34 901.45,140.24 885.86,140.24" fill="#92de52" />
<polygon points="884.21,144.61 899.78,144.61 899.78,143.51 904.18,145.56 899.78,147.61 899.78,146.51 884.21,146.51" fill="#4bcf9f" />
<polygon points="882.56,150.88 898.11,150.88 898.11,149.78 902.51,151.83 898.11,153.88 898.11,152.78 882.56,152.78" fill="#17b3dc" />
<polygon points="880.91,157.15 896.43,157.15 896.43,156.05 900.83,158.10 896.43,160.15 896.43,159.05 880.91,159.05" fill="#0c94d6" />
<polygon points="879.26,163.42 894.76,163.42 894.76,162.32 899.16,164.37 894.76,166.42 894.76,165.32 879.26,165.32" fill="#0874c5" />
<polygon points="877.61,169.69 893.08,169.69 893.08,168.59 897.48,170.64 893.08,172.69 893.08,171.59 877.61,171.59" fill="#0856ad" />
<polygon points="875.96,175.96 891.41,175.96 891.41,174.86 895.81,176.91 891.41,178.96 891.41,177.86 875.96,177.86" fill="#0f318c" />
<polygon points="874.31,182.24 889.74,182.24 889.74,181.14 894.14,183.19 889.74,185.24 889.74,184.14 874.31,184.14" fill="#222385" />
<polygon points="872.66,188.51 888.06,188.51 888.06,187.41 892.46,189.46 888.06,191.51 888.06,190.41 872.66,190.41" fill="#3d2491" />
<polygon points="871.02,194.78 886.39,194.78 886.39,193.68 890.79,195.73 886.39,197.78 886.39,196.68 871.02,196.68" fill="#57299e" />
<polygon points="869.37,201.05 884.72,201.05 884.72,199.95 889.12,202.00 884.72,204.05 884.72,202.95 869.37,202.95" fill="#7131aa" />
<polygon points="949.73,49.65 963.71,49.65 963.71,48.55 968.11,50.60 963.71,52.65 963.71,51.55 949.73,51.55" fill="#ff1812" />
<polygon points="948.02,55.95 962.05,55.95 962.05,54.85 966.45,56.90 962.05,58.95 962.05,57.85 948.02,57.85" fill="#ff200e" />
<polygon points="946.32,62.24 960.40,62.24 960.40,61.14 964.80,63.19 960.40,65.24 960.40,64.14 946.32,64.14" fill="#ff3e08" />
<polygon points="944.61,68.54 958.74,68.54 958.74,67.44 963.14,69.49 958.74,71.54 958.74,70.44 944.61,70.44" fill="#ff7201" />
<polygon points="942.90,74.83 957.08,74.83 957.08,73.73 961.48,75.78 957.08,77.83 957.08,76.73 942.90,76.73" fill="#ff9600" />
<polygon points="941.20,81.13 955.42,81.13 955.42,80.03 959.82,82.08 955.42,84.13 955.42,83.03 941.20,83.03" fill="#ffb800" />
<polygon points="939.49,87.42 953.77,87.42 953.77,86.33 958.17,88.38 953.77,90.42 953.77,89.33 939.49,89.33" fill="#ffd800" />
<polygon points="937.78,93.72 952.11,93.72 952.11,92.62 956.51,94.67 952.11,96.72 952.11,95.62 937.78,95.62" fill="#fff700" />
<polygon points="936.07,100.02 950.45,100.02 950.45,98.92 954.85,100.97 950.45,103.02 950.45,101.92 936.07,101.92" fill="#fbfd00" />
<polygon points="934.37,106.31 948.79,106.31 948.79,105.21 953.19,107.26 948.79,109.31 948.79,108.21 934.37,108.21" fill="#f5fb00" />
<polygon points="932.66,112.61 947.14,112.61 947.14,111.51 951.54,113.56 947.14,115.61 947.14,114.51 932.66,114.51" fill="#f0f800" />
<polygon points="930.95,118.90 945.48,118.90 945.48,117.80 949.88,119.85 945.48,121.90 945.48,120.80 930.95,120.80" fill="#d4ee14" />
<polygon points="929.25,125.20 943.82,125.20 943.82,124.10 948.22,126.15 943.82,128.20 943.82,127.10 929.25,127.10" fill="#b8e428" />
<polygon points="927.54,131.50 942.16,131.50 942.16,130.40 946.56,132.45 942.16,134.50 942.16,133.40 927.54,133.40" fill="#75da71" />
<polygon points="925.83,137.79 940.51,137.79 940.51,136.69 944.91,138.74 940.51,140.79 940.51,139.69 925.83,139.69" fill="#3ec8af" />
<polygon points="924.12,144.09 938.85,144.09 938.85,142.99 943.25,145.04 938.85,147.09 938.85,145.99 924.12,145.99" fill="#10b0e4" />
<polygon points="922.42,150.38 937.19,150.38 937.19,149.28 941.59,151.33 937.19,153.38 937.19,152.28 922.42,152.28" fill="#0c94d6" />
<polygon points="920.71,156.68 935.53,156.68 935.53,155.58 939.93,157.63 935.53,159.68 935.53,158.58 920.71,158.58" fill="#0878c8" />
<polygon points="919.00,162.97 933.87,162.97 933.87,161.87 938.27,163.92 933.87,165.97 933.87,164.87 919.00,164.87" fill="#085db3" />
<polygon points="917.29,169.27 932.22,169.27 932.22,168.17 936.62,170.22 932.22,172.27 932.22,171.17 917.29,171.17" fill="#0c3f99" />
<polygon points="915.59,175.57 930.56,175.57 930.56,174.47 934.96,176.52 930.56,178.57 930.56,177.47 915.59,177.47" fill="#15227f" />
<polygon points="913.88,181.86 928.90,181.86 928.90,180.76 933.30,182.81 928.90,184.86 928.90,183.76 913.88,183.76" fill="#2c238a" />
<polygon points="912.17,188.16 927.24,188.16 927.24,187.06 931.64,189.11 927.24,191.16 927.24,190.06 912.17,190.06" fill="#442494" />
<polygon points="910.47,194.45 925.59,194.45 925.59,193.35 929.99,195.40 925.59,197.45 925.59,196.35 910.47,196.35" fill="#5a2a9f" />
<polygon points="908.76,200.75 923.93,200.75 923.93,199.65 928.33,201.70 923.93,203.75 923.93,202.65 908.76,202.65" fill="#7131aa" />
<polygon points="758.90,87.70 762.10,110.30 760.12,117.86 756.92,95.26" fill="#949494" />
<polygon points="747.02,94.56 757.52,95.26 760.12,117.86 749.62,117.16" fill="#5a5a5a" />
<polygon points="749.00,87.00 759.50,87.70 757.52,95.26 747.02,94.56" fill="url(#g16)" />
<polygon points="756.42,97.15 759.62,119.75 757.64,127.31 754.44,104.71" fill="#949494" />
<polygon points="744.54,104.01 755.04,104.71 757.64,127.31 747.14,126.61" fill="#5a5a5a" />
<polygon points="746.52,96.45 757.02,97.15 755.04,104.71 744.54,104.01" fill="url(#g17)" />
<polygon points="753.94,106.60 757.14,129.20 755.16,136.76 751.96,114.16" fill="#949494" />
<polygon points="742.06,113.46 752.56,114.16 755.16,136.76 744.66,136.06" fill="#5a5a5a" />
<polygon points="744.04,105.90 754.54,106.60 752.56,114.16 742.06,113.46" fill="url(#g18)" />
<polygon points="751.46,116.05 754.66,138.65 752.68,146.21 749.48,123.61" fill="#949494" />
<polygon points="739.58,122.91 750.08,123.61 752.68,146.21 742.18,145.51" fill="#5a5a5a" />
<polygon points="741.56,115.35 752.06,116.05 750.08,123.61 739.58,122.91" fill="url(#g19)" />
<polygon points="748.98,125.50 752.18,148.10 750.20,155.66 747.00,133.06" fill="#949494" />
<polygon points="737.10,132.36 747.60,133.06 750.20,155.66 739.70,154.96" fill="#5a5a5a" />
<polygon points="739.08,124.80 749.58,125.50 747.60,133.06 737.10,132.36" fill="url(#g20)" />
<polygon points="746.50,134.95 749.70,157.55 747.72,165.11 744.52,142.51" fill="#949494" />
<polygon points="734.62,141.81 745.12,142.51 747.72,165.11 737.22,164.41" fill="#5a5a5a" />
<polygon points="736.60,134.25 747.10,134.95 745.12,142.51 734.62,141.81" fill="url(#g21)" />
<polygon points="744.02,144.40 747.22,167.00 745.24,174.56 742.04,151.96" fill="#949494" />
<polygon points="732.14,151.26 742.64,151.96 745.24,174.56 734.74,173.86" fill="#5a5a5a" />
<polygon points="734.12,143.70 744.62,144.40 742.64,151.96 732.14,151.26" fill="url(#g22)" />
<polygon points="741.54,153.85 744.74,176.45 742.76,184.01 739.56,161.41" fill="#949494" />
<polygon points="729.66,160.71 740.16,161.41 742.76,184.01 732.26,183.31" fill="#707070" stroke="#868686" stroke-width="0.5"/>
<polygon points="731.64,153.15 742.14,153.85 740.16,161.41 729.66,160.71" fill="url(#g23)" />
<polygon points="794.50,104.60 797.70,127.20 795.76,134.56 792.56,111.96" fill="#949494" />
<polygon points="782.66,111.26 793.16,111.96 795.76,134.56 785.26,133.86" fill="#5a5a5a" />
<polygon points="784.60,103.90 795.10,104.60 793.16,111.96 782.66,111.26" fill="url(#g24)" />
<polygon points="792.08,113.80 795.28,136.40 793.34,143.76 790.14,121.16" fill="#949494" />
<polygon points="780.24,120.46 790.74,121.16 793.34,143.76 782.84,143.06" fill="#5a5a5a" />
<polygon points="782.18,113.10 792.68,113.80 790.74,121.16 780.24,120.46" fill="url(#g25)" />
<polygon points="789.66,123.00 792.86,145.60 790.92,152.96 787.72,130.36" fill="#949494" />
<polygon points="777.82,129.66 788.32,130.36 790.92,152.96 780.42,152.26" fill="#5a5a5a" />
<polygon points="779.76,122.30 790.26,123.00 788.32,130.36 777.82,129.66" fill="url(#g26)" />
<polygon points="787.24,132.20 790.44,154.80 788.50,162.16 785.30,139.56" fill="#949494" />
<polygon points="775.40,138.86 785.90,139.56 788.50,162.16 778.00,161.46" fill="#5a5a5a" />
<polygon points="777.34,131.50 787.84,132.20 785.90,139.56 775.40,138.86" fill="url(#g27)" />
<polygon points="784.82,141.40 788.02,164.00 786.08,171.36 782.88,148.76" fill="#949494" />
<polygon points="772.98,148.06 783.48,148.76 786.08,171.36 775.58,170.66" fill="#707070" stroke="#868686" stroke-width="0.5"/>
<polygon points="774.92,140.70 785.42,141.40 783.48,148.76 772.98,148.06" fill="url(#g28)" />
<polygon points="836.80,87.90 840.00,110.50 838.08,118.04 834.88,95.44" fill="#949494" />
<polygon points="824.88,94.74 835.48,95.44 838.08,118.04 827.48,117.34" fill="#5a5a5a" />
<polygon points="826.80,87.20 837.40,87.90 835.48,95.44 824.88,94.74" fill="url(#g29)" />
<polygon points="834.40,97.32 837.60,119.92 835.68,127.46 832.48,104.86" fill="#949494" />
<polygon points="822.48,104.16 833.08,104.86 835.68,127.46 825.08,126.76" fill="#5a5a5a" />
<polygon points="824.40,96.62 835.00,97.32 833.08,104.86 822.48,104.16" fill="url(#g30)" />
<polygon points="832.00,106.74 835.20,129.34 833.28,136.88 830.08,114.28" fill="#949494" />
<polygon points="820.08,113.58 830.68,114.28 833.28,136.88 822.68,136.18" fill="#5a5a5a" />
<polygon points="822.00,106.04 832.60,106.74 830.68,114.28 820.08,113.58" fill="url(#g31)" />
<polygon points="829.60,116.16 832.80,138.76 830.88,146.30 827.68,123.70" fill="#949494" />
<polygon points="817.68,123.00 828.28,123.70 830.88,146.30 820.28,145.60" fill="#5a5a5a" />
<polygon points="819.60,115.46 830.20,116.16 828.28,123.70 817.68,123.00" fill="url(#g32)" />
<polygon points="827.20,125.58 830.40,148.18 828.48,155.72 825.28,133.12" fill="#949494" />
<polygon points="815.28,132.42 825.88,133.12 828.48,155.72 817.88,155.02" fill="#5a5a5a" />
<polygon points="817.20,124.88 827.80,125.58 825.88,133.12 815.28,132.42" fill="url(#g33)" />
<polygon points="824.80,135.00 828.00,157.60 826.08,165.14 822.88,142.54" fill="#949494" />
<polygon points="812.88,141.84 823.48,142.54 826.08,165.14 815.48,164.44" fill="#5a5a5a" />
<polygon points="814.80,134.30 825.40,135.00 823.48,142.54 812.88,141.84" fill="url(#g34)" />
<polygon points="822.40,144.42 825.60,167.02 823.68,174.56 820.48,151.96" fill="#949494" />
<polygon points="810.48,151.26 821.08,151.96 823.68,174.56 813.08,173.86" fill="#5a5a5a" />
<polygon points="812.40,143.72 823.00,144.42 821.08,151.96 810.48,151.26" fill="url(#g35)" />
<polygon points="820.00,153.84 823.20,176.44 821.28,183.98 818.08,161.38" fill="#949494" />
<polygon points="808.08,160.68 818.68,161.38 821.28,183.98 810.68,183.28" fill="#707070" stroke="#868686" stroke-width="0.5"/>
<polygon points="810.00,153.14 820.60,153.84 818.68,161.38 808.08,160.68" fill="url(#g36)" />
<polygon points="759.90,113.05 774.30,113.05 774.30,111.95 778.20,113.80 774.30,115.65 774.30,114.55 759.90,114.55" fill="#a0a0a0" />
<polygon points="798.20,113.05 812.90,113.05 812.90,111.95 816.80,113.80 812.90,115.65 812.90,114.55 798.20,114.55" fill="#a0a0a0" />
<polygon points="758.28,119.31 772.68,119.31 772.68,118.21 776.58,120.06 772.68,121.91 772.68,120.81 758.28,120.81" fill="#a0a0a0" />
<polygon points="796.60,119.31 811.28,119.31 811.28,118.21 815.18,120.06 811.28,121.91 811.28,120.81 796.60,120.81" fill="#a0a0a0" />
<polygon points="756.66,125.57 771.06,125.57 771.06,124.47 774.96,126.32 771.06,128.17 771.06,127.07 756.66,127.07" fill="#a0a0a0" />
<polygon points="795.00,125.57 809.66,125.57 809.66,124.47 813.56,126.32 809.66,128.17 809.66,127.07 795.00,127.07" fill="#a0a0a0" />
<polygon points="755.04,131.83 769.44,131.83 769.44,130.73 773.34,132.58 769.44,134.43 769.44,133.33 755.04,133.33" fill="#a0a0a0" />
<polygon points="793.40,131.83 808.04,131.83 808.04,130.73 811.94,132.58 808.04,134.43 808.04,133.33 793.40,133.33" fill="#a0a0a0" />
<polygon points="753.42,138.09 767.82,138.09 767.82,136.99 771.72,138.84 767.82,140.69 767.82,139.59 753.42,139.59" fill="#a0a0a0" />
<polygon points="791.80,138.09 806.42,138.09 806.42,136.99 810.32,138.84 806.42,140.69 806.42,139.59 791.80,139.59" fill="#a0a0a0" />
<polygon points="751.80,144.35 766.20,144.35 766.20,143.25 770.10,145.10 766.20,146.95 766.20,145.85 751.80,145.85" fill="#a0a0a0" />
<polygon points="790.20,144.35 804.80,144.35 804.80,143.25 808.70,145.10 804.80,146.95 804.80,145.85 790.20,145.85" fill="#a0a0a0" />
<circle cx="714.8" cy="125.2" r="1.95" fill="#000"/>
<circle cx="721.5" cy="125.2" r="1.95" fill="#000"/>
<circle cx="728.1" cy="125.2" r="1.95" fill="#000"/>
<circle cx="842.8" cy="125.2" r="1.95" fill="#000"/>
<circle cx="849.5" cy="125.2" r="1.95" fill="#000"/>
<circle cx="856.1" cy="125.2" r="1.95" fill="#000"/>
<text class="sbi" font-size="10.2" transform="translate(695.60 49.60) scale(1.0265 1)" stroke="#000" stroke-width="0.22" stroke-linejoin="round">encoder</text>
<text class="sbi" font-size="10.2" transform="translate(879.20 48.80) scale(1.0215 1)" stroke="#000" stroke-width="0.22" stroke-linejoin="round">decoder</text>
<text class="sbi" font-size="8.0" transform="translate(750.80 187.60) scale(0.9610 1)" stroke="#000" stroke-width="0.22" stroke-linejoin="round">feature vector</text>
<text class="sbi" font-size="8.0" transform="translate(766.80 196.80) scale(1.0381 1)" stroke="#000" stroke-width="0.22" stroke-linejoin="round">(1×5)</text>
<text class="sbi" font-size="5.4" transform="translate(606.50 237.50) scale(0.8967 1)" stroke="#000" stroke-width="0.22" stroke-linejoin="round">Fully</text>
<text class="sbi" font-size="5.4" transform="translate(599.20 243.50) scale(0.9702 1)" stroke="#000" stroke-width="0.22" stroke-linejoin="round">connected</text>
<text class="sbi" font-size="5.4" transform="translate(652.50 217.50) scale(0.9357 1)" stroke="#000" stroke-width="0.22" stroke-linejoin="round">Fully</text>
<text class="sbi" font-size="5.4" transform="translate(645.50 223.50) scale(0.9702 1)" stroke="#000" stroke-width="0.22" stroke-linejoin="round">connected</text>
<text class="sbi" font-size="5.4" transform="translate(868.20 221.00) scale(0.9045 1)" stroke="#000" stroke-width="0.22" stroke-linejoin="round">Fully</text>
<text class="sbi" font-size="5.4" transform="translate(861.00 227.20) scale(0.9776 1)" stroke="#000" stroke-width="0.22" stroke-linejoin="round">connected</text>
<text class="sbi" font-size="5.4" transform="translate(906.00 235.50) scale(0.9201 1)" stroke="#000" stroke-width="0.22" stroke-linejoin="round">Fully</text>
<text class="sbi" font-size="5.4" transform="translate(899.00 241.70) scale(0.9591 1)" stroke="#000" stroke-width="0.22" stroke-linejoin="round">connected</text>
<text class="s" font-size="8.0" transform="translate(608.80 151.47) rotate(-75.00) scale(0.9677 1)" stroke="#000" stroke-width="0.2" stroke-linejoin="round">Spectrum (1×3000)</text>
<text class="s" font-size="8.0" transform="translate(952.41 151.49) rotate(-75.20) scale(0.9677 1)" stroke="#000" stroke-width="0.2" stroke-linejoin="round">Spectrum (1×3000)</text>
<text class="s" font-size="25.0" transform="translate(576.80 293.60) scale(0.8103 1)" stroke="#000" stroke-width="0.55" stroke-linejoin="round">(c)</text>
<polygon points="650.70,362.20 654.90,386.30 617.10,523.50 614.50,501.60" fill="url(#g38)" />
<polygon points="607.60,500.60 615.20,501.00 617.10,523.50 610.60,523.50" fill="#4a2370" />
<polygon points="645.00,362.00 651.40,362.20 615.20,501.60 607.60,501.20" fill="url(#g37)" />
<polygon points="648.20,272.90 651.40,297.20 614.30,435.80 611.10,412.80" fill="url(#g40)" />
<polygon points="603.60,411.70 611.80,412.20 614.30,435.80 607.80,434.60" fill="#4a2370" />
<polygon points="641.60,272.60 648.90,272.90 611.80,412.80 603.60,412.30" fill="url(#g39)" />
<text class="s" font-size="7.8" transform="translate(623.12 364.36) rotate(-74.50) scale(0.9400 1)" stroke="#000" stroke-width="0.2" stroke-linejoin="round">Input spectrum</text>
<text class="s" font-size="7.8" transform="translate(625.94 455.72) rotate(-74.50) scale(0.9299 1)" stroke="#000" stroke-width="0.2" stroke-linejoin="round">Output spectrum</text>
<polygon points="643.90,341.00 698.10,341.00 698.10,338.40 707.50,342.80 698.10,347.20 698.10,344.60 643.90,344.60" fill="#000" />
<polygon points="644.60,339.30 698.80,339.30 698.80,336.70 708.20,341.10 698.80,345.50 698.80,342.90 644.60,342.90" fill="url(#ra1)" />
<polygon points="645.10,434.20 699.70,434.20 699.70,431.60 709.50,436.00 699.70,440.40 699.70,437.80 645.10,437.80" fill="#000" />
<polygon points="645.80,432.50 700.40,432.50 700.40,429.90 710.20,434.30 700.40,438.70 700.40,436.10 645.80,436.10" fill="url(#ra2)" />
<text class="sbi" font-size="7.0" transform="translate(664.00 337.40) scale(0.9730 1)" stroke="#000" stroke-width="0.22" stroke-linejoin="round">encoder</text>
<text class="sbi" font-size="7.0" transform="translate(665.20 428.40) scale(0.9875 1)" stroke="#000" stroke-width="0.22" stroke-linejoin="round">encoder</text>
<path d="M729,342.3 L766.6,342.3 L766.6,368" fill="none" stroke="#222" stroke-width="2.2" transform="translate(0.4 0.4)"/>
<path d="M729,342.3 L766.6,342.3 L766.6,368" fill="none" stroke="#909090" stroke-width="1.5"/>
<path d="M728.5,434.4 L766.6,434.4 L766.6,410" fill="none" stroke="#222" stroke-width="2.2" transform="translate(0.4 0.4)"/>
<path d="M728.5,434.4 L766.6,434.4 L766.6,410" fill="none" stroke="#909090" stroke-width="1.5"/>
<polygon points="763.0,367.2 766.7,369.4 770.4,367.2 766.7,375.0" fill="#d9d9d9" stroke="#111" stroke-width="0.9" stroke-linejoin="miter"/>
<polygon points="763.0,411.0 766.7,409.2 770.4,411.0 766.7,403.2" fill="#b0b0b0" stroke="#111" stroke-width="0.9" stroke-linejoin="miter"/>
<rect x="738.9" y="378.4" width="46.5" height="20.4" rx="3.6" ry="3.6" fill="#d6d6d6" stroke="#111" stroke-width="1.1"/>
<text class="sb" font-size="7.1" transform="translate(742.60 390.70) scale(0.9752 1)" stroke="#000" stroke-width="0.22" stroke-linejoin="round">concatenate</text>
<polygon points="789.8,387.8 798.8,387.8 798.8,386.4 803.4,388.8 798.8,391.2 798.8,389.8 789.8,389.8" fill="#6a6a6a" stroke="#111" stroke-width="1.1" stroke-linejoin="miter"/>
<polygon points="726.90,320.50 729.80,342.50 728.04,349.40 725.14,327.40" fill="#949494" />
<polygon points="715.84,326.60 725.74,327.40 728.04,349.40 718.14,348.60" fill="#5a5a5a" />
<polygon points="717.60,319.70 727.50,320.50 725.74,327.40 715.84,326.60" fill="url(#g41)" />
<polygon points="724.80,328.72 727.70,350.72 725.94,357.62 723.04,335.62" fill="#949494" />
<polygon points="713.74,334.82 723.64,335.62 725.94,357.62 716.04,356.82" fill="#5a5a5a" />
<polygon points="715.50,327.92 725.40,328.72 723.64,335.62 713.74,334.82" fill="url(#g42)" />
<polygon points="722.70,336.94 725.60,358.94 723.84,365.84 720.94,343.84" fill="#949494" />
<polygon points="711.64,343.04 721.54,343.84 723.84,365.84 713.94,365.04" fill="#5a5a5a" />
<polygon points="713.40,336.14 723.30,336.94 721.54,343.84 711.64,343.04" fill="url(#g43)" />
<polygon points="720.60,345.16 723.50,367.16 721.74,374.06 718.84,352.06" fill="#949494" />
<polygon points="709.54,351.26 719.44,352.06 721.74,374.06 711.84,373.26" fill="#5a5a5a" />
<polygon points="711.30,344.36 721.20,345.16 719.44,352.06 709.54,351.26" fill="url(#g44)" />
<polygon points="718.50,353.38 721.40,375.38 719.64,382.28 716.74,360.28" fill="#949494" />
<polygon points="707.44,359.48 717.34,360.28 719.64,382.28 709.74,381.48" fill="#707070" stroke="#868686" stroke-width="0.5"/>
<polygon points="709.20,352.58 719.10,353.38 717.34,360.28 707.44,359.48" fill="url(#g45)" />
<polygon points="726.00,409.50 729.00,432.50 727.36,439.43 724.36,416.43" fill="#949494" />
<polygon points="715.16,415.33 724.96,416.43 727.36,439.43 717.56,438.33" fill="#5a5a5a" />
<polygon points="716.80,408.40 726.60,409.50 724.96,416.43 715.16,415.33" fill="url(#g46)" />
<polygon points="724.05,417.75 727.05,440.75 725.41,447.68 722.41,424.68" fill="#949494" />
<polygon points="713.21,423.58 723.01,424.68 725.41,447.68 715.61,446.58" fill="#5a5a5a" />
<polygon points="714.85,416.65 724.65,417.75 723.01,424.68 713.21,423.58" fill="url(#g47)" />
<polygon points="722.10,426.00 725.10,449.00 723.46,455.93 720.46,432.93" fill="#949494" />
<polygon points="711.26,431.83 721.06,432.93 723.46,455.93 713.66,454.83" fill="#5a5a5a" />
<polygon points="712.90,424.90 722.70,426.00 721.06,432.93 711.26,431.83" fill="url(#g48)" />
<polygon points="720.15,434.25 723.15,457.25 721.51,464.18 718.51,441.18" fill="#949494" />
<polygon points="709.31,440.08 719.11,441.18 721.51,464.18 711.71,463.08" fill="#5a5a5a" />
<polygon points="710.95,433.15 720.75,434.25 719.11,441.18 709.31,440.08" fill="url(#g49)" />
<polygon points="718.20,442.50 721.20,465.50 719.56,472.43 716.56,449.43" fill="#949494" />
<polygon points="707.36,448.33 717.16,449.43 719.56,472.43 709.76,471.33" fill="#707070" stroke="#868686" stroke-width="0.5"/>
<polygon points="709.00,441.40 718.80,442.50 717.16,449.43 707.36,448.33" fill="url(#g50)" />
<text class="sbi" font-size="7.3" transform="translate(701.50 307.00) scale(0.9564 1)" stroke="#000" stroke-width="0.22" stroke-linejoin="round">feature vector</text>
<text class="sbi" font-size="7.3" transform="translate(715.80 315.50) scale(1.0274 1)" stroke="#000" stroke-width="0.22" stroke-linejoin="round">(1×5)</text>
<text class="sbi" font-size="7.3" transform="translate(693.40 483.00) scale(0.9544 1)" stroke="#000" stroke-width="0.22" stroke-linejoin="round">feature vector</text>
<text class="sbi" font-size="7.3" transform="translate(708.00 491.00) scale(1.0100 1)" stroke="#000" stroke-width="0.22" stroke-linejoin="round">(1×5)</text>
<polygon points="828.60,345.60 831.10,367.90 829.19,374.89 826.69,352.59" fill="#949494" />
<polygon points="817.49,351.79 827.29,352.59 829.19,374.89 819.39,374.09" fill="#5a5a5a" />
<polygon points="819.40,344.80 829.20,345.60 827.29,352.59 817.49,351.79" fill="url(#g51)" />
<polygon points="826.33,353.92 828.83,376.22 826.92,383.21 824.42,360.91" fill="#949494" />
<polygon points="815.22,360.11 825.02,360.91 826.92,383.21 817.12,382.41" fill="#5a5a5a" />
<polygon points="817.13,353.12 826.93,353.92 825.02,360.91 815.22,360.11" fill="url(#g52)" />
<polygon points="824.06,362.24 826.56,384.54 824.65,391.53 822.15,369.23" fill="#949494" />
<polygon points="812.95,368.43 822.75,369.23 824.65,391.53 814.85,390.73" fill="#5a5a5a" />
<polygon points="814.86,361.44 824.66,362.24 822.75,369.23 812.95,368.43" fill="url(#g53)" />
<polygon points="821.79,370.56 824.29,392.86 822.38,399.85 819.88,377.55" fill="#949494" />
<polygon points="810.68,376.75 820.48,377.55 822.38,399.85 812.58,399.05" fill="#5a5a5a" />
<polygon points="812.59,369.76 822.39,370.56 820.48,377.55 810.68,376.75" fill="url(#g54)" />
<polygon points="819.52,378.88 822.02,401.18 820.11,408.17 817.61,385.87" fill="#949494" />
<polygon points="808.41,385.07 818.21,385.87 820.11,408.17 810.31,407.37" fill="#5a5a5a" />
<polygon points="810.32,378.08 820.12,378.88 818.21,385.87 808.41,385.07" fill="url(#g55)" />
<polygon points="817.25,387.20 819.75,409.50 817.84,416.49 815.34,394.19" fill="#949494" />
<polygon points="806.14,393.39 815.94,394.19 817.84,416.49 808.04,415.69" fill="#5a5a5a" />
<polygon points="808.05,386.40 817.85,387.20 815.94,394.19 806.14,393.39" fill="url(#g56)" />
<polygon points="814.98,395.52 817.48,417.82 815.57,424.81 813.07,402.51" fill="#949494" />
<polygon points="803.87,401.71 813.67,402.51 815.57,424.81 805.77,424.01" fill="#5a5a5a" />
<polygon points="805.78,394.72 815.58,395.52 813.67,402.51 803.87,401.71" fill="url(#g57)" />
<polygon points="812.71,403.84 815.21,426.14 813.30,433.13 810.80,410.83" fill="#949494" />
<polygon points="801.60,410.03 811.40,410.83 813.30,433.13 803.50,432.33" fill="#5a5a5a" />
<polygon points="803.51,403.04 813.31,403.84 811.40,410.83 801.60,410.03" fill="url(#g58)" />
<polygon points="810.44,412.16 812.94,434.46 811.03,441.45 808.53,419.15" fill="#949494" />
<polygon points="799.33,418.35 809.13,419.15 811.03,441.45 801.23,440.65" fill="#5a5a5a" />
<polygon points="801.24,411.36 811.04,412.16 809.13,419.15 799.33,418.35" fill="url(#g59)" />
<polygon points="808.17,420.48 810.67,442.78 808.76,449.77 806.26,427.47" fill="#949494" />
<polygon points="797.06,426.67 806.86,427.47 808.76,449.77 798.96,448.97" fill="#707070" stroke="#868686" stroke-width="0.5"/>
<polygon points="798.97,419.68 808.77,420.48 806.86,427.47 797.06,426.67" fill="url(#g60)" />
<polygon points="867.40,341.60 869.60,356.80 844.10,455.50 843.00,438.80" fill="url(#g62)" />
<polygon points="835.00,437.00 843.70,438.20 844.10,455.50 837.60,454.80" fill="#707070" />
<polygon points="860.80,341.00 868.10,341.60 843.70,438.80 835.00,437.60" fill="url(#g61)" />
<polygon points="896.40,341.60 899.00,356.80 873.40,455.50 872.40,438.80" fill="url(#g64)" />
<polygon points="864.30,437.00 873.10,438.20 873.40,455.50 866.60,454.80" fill="#707070" />
<polygon points="890.40,341.00 897.10,341.60 873.10,438.80 864.30,437.60" fill="url(#g63)" />
<polygon points="928.00,340.60 931.00,357.30 904.80,454.70 904.40,438.00" fill="url(#g66)" />
<polygon points="896.00,436.30 905.10,437.40 904.80,454.70 898.30,454.00" fill="#707070" />
<polygon points="921.90,339.80 928.70,340.60 905.10,438.00 896.00,436.90" fill="url(#g65)" />
<polygon points="952.20,369.10 955.20,391.10 953.31,398.11 950.31,376.11" fill="#949494" />
<polygon points="941.81,375.41 950.91,376.11 953.31,398.11 944.21,397.41" fill="#5a5a5a" />
<polygon points="943.70,368.40 952.80,369.10 950.91,376.11 941.81,375.41" fill="url(#g67)" />
<polygon points="949.95,377.45 952.95,399.45 951.06,406.46 948.06,384.46" fill="#949494" />
<polygon points="939.56,383.76 948.66,384.46 951.06,406.46 941.96,405.76" fill="#5a5a5a" />
<polygon points="941.45,376.75 950.55,377.45 948.66,384.46 939.56,383.76" fill="url(#g68)" />
<polygon points="947.70,385.80 950.70,407.80 948.81,414.81 945.81,392.81" fill="#949494" />
<polygon points="937.31,392.11 946.41,392.81 948.81,414.81 939.71,414.11" fill="#5a5a5a" />
<polygon points="939.20,385.10 948.30,385.80 946.41,392.81 937.31,392.11" fill="url(#g69)" />
<polygon points="945.45,394.15 948.45,416.15 946.56,423.16 943.56,401.16" fill="#949494" />
<polygon points="935.06,400.46 944.16,401.16 946.56,423.16 937.46,422.46" fill="#5a5a5a" />
<polygon points="936.95,393.45 946.05,394.15 944.16,401.16 935.06,400.46" fill="url(#g70)" />
<polygon points="943.20,402.50 946.20,424.50 944.31,431.51 941.31,409.51" fill="#949494" />
<polygon points="932.81,408.81 941.91,409.51 944.31,431.51 935.21,430.81" fill="#707070" stroke="#868686" stroke-width="0.5"/>
<polygon points="934.70,401.80 943.80,402.50 941.91,409.51 932.81,408.81" fill="url(#g71)" />
<polygon points="833.00,357.05 846.10,357.05 846.10,356.00 849.80,357.80 846.10,359.60 846.10,358.55 833.00,358.55" fill="#a0a0a0" />
<polygon points="869.40,357.05 880.90,357.05 880.90,356.00 884.60,357.80 880.90,359.60 880.90,358.55 869.40,358.55" fill="#a0a0a0" />
<polygon points="898.40,357.05 910.60,357.05 910.60,356.00 914.30,357.80 910.60,359.60 910.60,358.55 898.40,358.55" fill="#a0a0a0" />
<polygon points="831.59,362.57 844.58,362.57 844.58,361.52 848.28,363.32 844.58,365.12 844.58,364.07 831.59,364.07" fill="#a0a0a0" />
<polygon points="867.80,362.57 879.36,362.57 879.36,361.52 883.06,363.32 879.36,365.12 879.36,364.07 867.80,364.07" fill="#a0a0a0" />
<polygon points="896.80,362.57 909.08,362.57 909.08,361.52 912.78,363.32 909.08,365.12 909.08,364.07 896.80,364.07" fill="#a0a0a0" />
<polygon points="830.18,368.10 843.06,368.10 843.06,367.05 846.76,368.85 843.06,370.65 843.06,369.60 830.18,369.60" fill="#a0a0a0" />
<polygon points="866.20,368.10 877.82,368.10 877.82,367.05 881.52,368.85 877.82,370.65 877.82,369.60 866.20,369.60" fill="#a0a0a0" />
<polygon points="895.20,368.10 907.56,368.10 907.56,367.05 911.26,368.85 907.56,370.65 907.56,369.60 895.20,369.60" fill="#a0a0a0" />
<polygon points="828.77,373.62 841.54,373.62 841.54,372.57 845.24,374.37 841.54,376.17 841.54,375.12 828.77,375.12" fill="#a0a0a0" />
<polygon points="864.60,373.62 876.28,373.62 876.28,372.57 879.98,374.37 876.28,376.17 876.28,375.12 864.60,375.12" fill="#a0a0a0" />
<polygon points="893.60,373.62 906.04,373.62 906.04,372.57 909.74,374.37 906.04,376.17 906.04,375.12 893.60,375.12" fill="#a0a0a0" />
<polygon points="827.36,379.14 840.02,379.14 840.02,378.09 843.72,379.89 840.02,381.69 840.02,380.64 827.36,380.64" fill="#a0a0a0" />
<polygon points="863.00,379.14 874.74,379.14 874.74,378.09 878.44,379.89 874.74,381.69 874.74,380.64 863.00,380.64" fill="#a0a0a0" />
<polygon points="892.00,379.14 904.52,379.14 904.52,378.09 908.22,379.89 904.52,381.69 904.52,380.64 892.00,380.64" fill="#a0a0a0" />
<polygon points="825.95,384.67 838.50,384.67 838.50,383.62 842.20,385.42 838.50,387.22 838.50,386.17 825.95,386.17" fill="#a0a0a0" />
<polygon points="861.40,384.67 873.20,384.67 873.20,383.62 876.90,385.42 873.20,387.22 873.20,386.17 861.40,386.17" fill="#a0a0a0" />
<polygon points="890.40,384.67 903.00,384.67 903.00,383.62 906.70,385.42 903.00,387.22 903.00,386.17 890.40,386.17" fill="#a0a0a0" />
<polygon points="824.54,390.19 836.98,390.19 836.98,389.14 840.68,390.94 836.98,392.74 836.98,391.69 824.54,391.69" fill="#a0a0a0" />
<polygon points="859.80,390.19 871.66,390.19 871.66,389.14 875.36,390.94 871.66,392.74 871.66,391.69 859.80,391.69" fill="#a0a0a0" />
<polygon points="888.80,390.19 901.48,390.19 901.48,389.14 905.18,390.94 901.48,392.74 901.48,391.69 888.80,391.69" fill="#a0a0a0" />
<polygon points="823.13,395.71 835.46,395.71 835.46,394.66 839.16,396.46 835.46,398.26 835.46,397.21 823.13,397.21" fill="#a0a0a0" />
<polygon points="858.20,395.71 870.12,395.71 870.12,394.66 873.82,396.46 870.12,398.26 870.12,397.21 858.20,397.21" fill="#a0a0a0" />
<polygon points="887.20,395.71 899.96,395.71 899.96,394.66 903.66,396.46 899.96,398.26 899.96,397.21 887.20,397.21" fill="#a0a0a0" />
<polygon points="821.72,401.23 833.94,401.23 833.94,400.18 837.64,401.98 833.94,403.78 833.94,402.73 821.72,402.73" fill="#a0a0a0" />
<polygon points="856.60,401.23 868.58,401.23 868.58,400.18 872.28,401.98 868.58,403.78 868.58,402.73 856.60,402.73" fill="#a0a0a0" />
<polygon points="885.60,401.23 898.44,401.23 898.44,400.18 902.14,401.98 898.44,403.78 898.44,402.73 885.60,402.73" fill="#a0a0a0" />
<polygon points="820.31,406.76 832.42,406.76 832.42,405.71 836.12,407.51 832.42,409.31 832.42,408.26 820.31,408.26" fill="#a0a0a0" />
<polygon points="855.00,406.76 867.04,406.76 867.04,405.71 870.74,407.51 867.04,409.31 867.04,408.26 855.00,408.26" fill="#a0a0a0" />
<polygon points="884.00,406.76 896.92,406.76 896.92,405.71 900.62,407.51 896.92,409.31 896.92,408.26 884.00,408.26" fill="#a0a0a0" />
<polygon points="818.90,412.28 830.90,412.28 830.90,411.23 834.60,413.03 830.90,414.83 830.90,413.78 818.90,413.78" fill="#a0a0a0" />
<polygon points="853.40,412.28 865.50,412.28 865.50,411.23 869.20,413.03 865.50,414.83 865.50,413.78 853.40,413.78" fill="#a0a0a0" />
<polygon points="882.40,412.28 895.40,412.28 895.40,411.23 899.10,413.03 895.40,414.83 895.40,413.78 882.40,413.78" fill="#a0a0a0" />
<polygon points="817.49,417.80 829.38,417.80 829.38,416.75 833.08,418.55 829.38,420.35 829.38,419.30 817.49,419.30" fill="#a0a0a0" />
<polygon points="851.80,417.80 863.96,417.80 863.96,416.75 867.66,418.55 863.96,420.35 863.96,419.30 851.80,419.30" fill="#a0a0a0" />
<polygon points="880.80,417.80 893.88,417.80 893.88,416.75 897.58,418.55 893.88,420.35 893.88,419.30 880.80,419.30" fill="#a0a0a0" />
<polygon points="816.08,423.33 827.86,423.33 827.86,422.28 831.56,424.08 827.86,425.88 827.86,424.83 816.08,424.83" fill="#a0a0a0" />
<polygon points="850.20,423.33 862.42,423.33 862.42,422.28 866.12,424.08 862.42,425.88 862.42,424.83 850.20,424.83" fill="#a0a0a0" />
<polygon points="879.20,423.33 892.36,423.33 892.36,422.28 896.06,424.08 892.36,425.88 892.36,424.83 879.20,424.83" fill="#a0a0a0" />
<polygon points="814.67,428.85 826.34,428.85 826.34,427.80 830.04,429.60 826.34,431.40 826.34,430.35 814.67,430.35" fill="#a0a0a0" />
<polygon points="848.60,428.85 860.88,428.85 860.88,427.80 864.58,429.60 860.88,431.40 860.88,430.35 848.60,430.35" fill="#a0a0a0" />
<polygon points="877.60,428.85 890.84,428.85 890.84,427.80 894.54,429.60 890.84,431.40 890.84,430.35 877.60,430.35" fill="#a0a0a0" />
<polygon points="924.20,376.35 935.70,376.35 935.70,375.30 939.40,377.10 935.70,378.90 935.70,377.85 924.20,377.85" fill="#a0a0a0" />
<polygon points="922.42,382.95 934.02,382.95 934.02,381.90 937.72,383.70 934.02,385.50 934.02,384.45 922.42,384.45" fill="#a0a0a0" />
<polygon points="920.64,389.55 932.34,389.55 932.34,388.50 936.04,390.30 932.34,392.10 932.34,391.05 920.64,391.05" fill="#a0a0a0" />
<polygon points="918.86,396.15 930.66,396.15 930.66,395.10 934.36,396.90 930.66,398.70 930.66,397.65 918.86,397.65" fill="#a0a0a0" />
<polygon points="917.08,402.75 928.98,402.75 928.98,401.70 932.68,403.50 928.98,405.30 928.98,404.25 917.08,404.25" fill="#a0a0a0" />
<polygon points="915.30,409.35 927.30,409.35 927.30,408.30 931.00,410.10 927.30,411.90 927.30,410.85 915.30,410.85" fill="#a0a0a0" />
<text class="sbi" font-size="7.2" transform="translate(801.80 331.90) scale(0.9593 1)" stroke="#000" stroke-width="0.22" stroke-linejoin="round">feature vector</text>
<text class="sbi" font-size="7.2" transform="translate(814.00 340.60) scale(1.0131 1)" stroke="#000" stroke-width="0.22" stroke-linejoin="round">(1×10)</text>
<text class="sbi" font-size="7.2" transform="translate(965.30 390.70) scale(0.9745 1)" stroke="#000" stroke-width="0.22" stroke-linejoin="round">Predicted</text>
<text class="sbi" font-size="7.2" transform="translate(962.28 398.70) scale(0.9745 1)" stroke="#000" stroke-width="0.22" stroke-linejoin="round">parameters</text>
<text class="sbi" font-size="10.6" transform="translate(876.10 331.70) scale(1.0348 1)" stroke="#000" stroke-width="0.22" stroke-linejoin="round">MLP</text>
</svg>
</body></html>
